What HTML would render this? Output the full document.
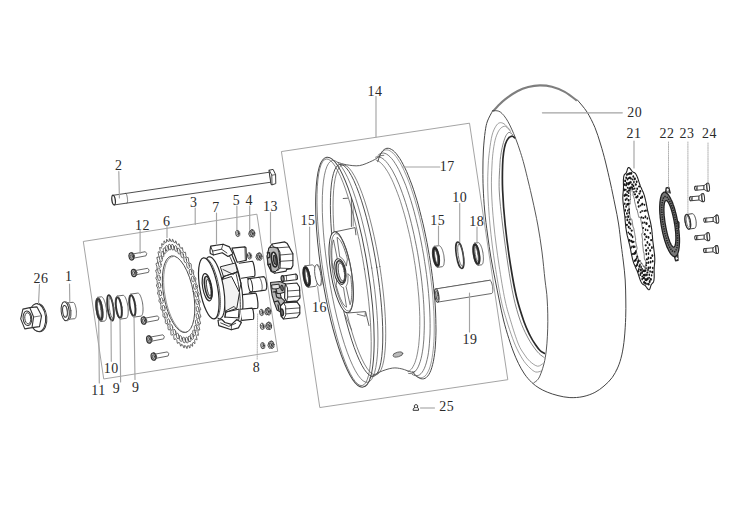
<!DOCTYPE html>
<html><head><meta charset="utf-8"><title>Rear wheel assembly</title>
<style>html,body{margin:0;padding:0;background:#fff;}svg{display:block}text{font-family:"Liberation Serif",serif;}</style>
</head><body>
<svg width="749" height="521" viewBox="0 0 749 521" stroke-linejoin="round" stroke-linecap="round">
<rect width="749" height="521" fill="#fff"/>
<path d="M83.7 241.4 L256.9 214.2 L277.7 351.3 L104.1 378.9Z" fill="none" stroke="#9a9a9a" stroke-width="0.9" />
<path d="M281.8 151.5 L469.5 123.2 L507.8 379.7 L320.2 407.5Z" fill="none" stroke="#9a9a9a" stroke-width="0.9" />
<path d="M113.7 195.2 L269.6 172.2 L271 182.2 L114.4 204.9" fill="#fff" stroke="#3a3a3a" stroke-width="0.9" />
<ellipse cx="0" cy="0" rx="1.7" ry="4.9" transform="translate(113.6 200.1) rotate(-8)" fill="#fff" stroke="#333" stroke-width="1.3" />
<path d="M125.5 193.3 L125.6 193.3 L125.7 193.4 L125.8 193.4 L125.9 193.5 L126 193.7 L126.1 193.8 L126.2 194 L126.3 194.2 L126.5 194.4 L126.6 194.7 L126.7 194.9 L126.8 195.2 L126.9 195.5 L126.9 195.8 L127 196.2 L127.1 196.5 L127.2 196.9 L127.3 197.3 L127.3 197.7 L127.4 198 L127.4 198.4 L127.5 198.8 L127.5 199.2 L127.5 199.5 L127.6 199.9 L127.6 200.3 L127.6 200.6 L127.6 200.9 L127.5 201.2 L127.5 201.5 L127.5 201.8 L127.5 202 L127.4 202.3 L127.3 202.4 L127.3 202.6 L127.2 202.8 L127.1 202.9 L127.1 203 L127 203 L126.9 203.1" fill="none" stroke="#3a3a3a" stroke-width="0.7" />
<path d="M269.3 170.2 L273.1 169.4 L275.6 174.6 L275.8 183.6 L272 184.8 L271.4 184.6Z" fill="#fff" stroke="#3a3a3a" stroke-width="1.0" />
<path d="M269.3 170.2 L271.8 175.2 L272 184.8" fill="none" stroke="#3a3a3a" stroke-width="0.9" />
<path d="M271.8 175.2 L275.6 174.6" fill="none" stroke="#3a3a3a" stroke-width="0.8" />
<ellipse cx="0" cy="0" rx="8.2" ry="14.2" transform="translate(38.6 317.6) rotate(-6)" fill="#fff" stroke="#333" stroke-width="1.0" />
<ellipse cx="0" cy="0" rx="8" ry="14" transform="translate(37.6 317.6) rotate(-6)" fill="#fff" stroke="#333" stroke-width="1.0" />
<path d="M29.8 307.6 L37 306.9 L41.6 315.7 L39.5 326.6 L32 327.6" fill="#fff" stroke="#333" stroke-width="1.1" />
<path d="M20.7 318.9 L22.9 309.1 L29.8 307.6 L33.6 317 L32 327.6 L24.8 328.9Z" fill="#fff" stroke="#333" stroke-width="1.1" />
<line x1="33.6" y1="317" x2="41.6" y2="315.7" stroke="#585858" stroke-width="0.8"/>
<ellipse cx="0" cy="0" rx="4.3" ry="7.3" transform="translate(27.4 318.3) rotate(-6)" fill="none" stroke="#333" stroke-width="1.0" />
<ellipse cx="0" cy="0" rx="3" ry="5.6" transform="translate(27.8 318.3) rotate(-6)" fill="none" stroke="#333" stroke-width="0.9" />
<path d="M67.6 302.8 L73 302.3 L73.3 302.4 L73.6 302.5 L73.8 302.7 L74.1 302.9 L74.4 303.3 L74.6 303.8 L74.9 304.3 L75.1 304.9 L75.3 305.5 L75.5 306.2 L75.7 307 L75.9 307.7 L76.1 308.6 L76.2 309.4 L76.3 310.2 L76.4 311.1 L76.4 312 L76.4 312.8 L76.4 313.6 L76.4 314.4 L76.3 315.1 L76.2 315.8 L76.1 316.4 L76 317 L75.8 317.4 L75.7 317.8 L75.5 318.2 L75.2 318.4 L75 318.6 L74.8 318.7 L69.4 319.2" fill="#fff" stroke="#585858" stroke-width="0.9" />
<ellipse cx="0" cy="0" rx="2.4" ry="8.2" transform="translate(68.5 311) rotate(-6)" fill="#fff" stroke="#585858" stroke-width="0.9" />
<ellipse cx="0" cy="0" rx="4" ry="9.6" transform="translate(65.2 311.3) rotate(-6)" fill="#fff" stroke="#333" stroke-width="1.0" />
<path d="M65.4 301.7 L65.7 301.6 L66 301.7 L66.4 301.8 L66.7 302 L67 302.2 L67.3 302.5 L67.6 302.8 L67.9 303.2 L68.2 303.7 L68.5 304.2 L68.8 304.7 L69 305.2 L69.3 305.9 L69.5 306.5 L69.7 307.2 L69.9 307.9 L70 308.6 L70.2 309.3 L70.3 310 L70.4 310.8 L70.4 311.5 L70.5 312.3 L70.5 313 L70.5 313.8 L70.5 314.5 L70.4 315.2 L70.3 315.8 L70.2 316.5 L70.1 317.1 L69.9 317.7 L69.7 318.2 L69.6 318.7 L69.3 319.1 L69.1 319.5 L68.8 319.9 L68.6 320.2 L68.3 320.4 L68 320.6 L67.7 320.7 L67.4 320.7" fill="none" stroke="#585858" stroke-width="0.7" />
<ellipse cx="0" cy="0" rx="2.3" ry="5.9" transform="translate(65 311.4) rotate(-6)" fill="none" stroke="#333" stroke-width="1.0" />
<path d="M65.7 306.7 L65.9 306.8 L66 307 L66.2 307.1 L66.3 307.4 L66.4 307.6 L66.6 307.9 L66.7 308.2 L66.8 308.5 L66.9 308.8 L67 309.1 L67.1 309.5 L67.2 309.8 L67.3 310.2 L67.3 310.6 L67.4 311 L67.4 311.4 L67.4 311.8 L67.5 312.2 L67.5 312.5 L67.5 312.9 L67.4 313.3 L67.4 313.6 L67.4 314 L67.3 314.3 L67.3 314.6 L67.2 314.9 L67.1 315.2 L67 315.4 L66.9 315.6 L66.8 315.8 L66.7 316 L66.6 316.1 L66.5 316.2 L66.3 316.3 L66.2 316.4 L66.1 316.4 L65.9 316.4 L65.8 316.3 L65.6 316.2 L65.5 316.1" fill="none" stroke="#585858" stroke-width="0.7" />
<path d="M97.7 297.3 L101.3 296.8 L101.7 296.8 L102 297 L102.4 297.3 L102.8 297.7 L103.2 298.2 L103.5 298.9 L103.9 299.6 L104.3 300.5 L104.6 301.4 L105 302.5 L105.3 303.6 L105.6 304.7 L105.8 305.9 L106.1 307.2 L106.3 308.4 L106.4 309.7 L106.5 311 L106.6 312.2 L106.7 313.4 L106.7 314.5 L106.6 315.6 L106.6 316.6 L106.4 317.6 L106.3 318.4 L106.1 319.1 L105.9 319.7 L105.6 320.2 L105.3 320.6 L105 320.9 L104.7 321 L101.1 321.5" fill="#fff" stroke="#585858" stroke-width="0.9" />
<ellipse cx="0" cy="0" rx="3.3" ry="12.2" transform="translate(99.4 309.4) rotate(-8)" fill="#fff" stroke="#585858" stroke-width="0.9" />
<ellipse cx="0" cy="0" rx="2.6" ry="10.4" transform="translate(99.4 309.4) rotate(-8)" fill="none" stroke="#333" stroke-width="2.2" />
<ellipse cx="0" cy="0" rx="1.5" ry="8.3" transform="translate(99.4 309.4) rotate(-8)" fill="none" stroke="#585858" stroke-width="0.8" />
<ellipse cx="0" cy="0" rx="2.9" ry="12.8" transform="translate(110.5 307.9) rotate(-8)" fill="none" stroke="#333" stroke-width="1.8" />
<ellipse cx="0" cy="0" rx="2.2" ry="10.8" transform="translate(111.5 307.8) rotate(-8)" fill="none" stroke="#585858" stroke-width="0.8" />
<path d="M117.2 296.1 L123 295.3 L123.3 295.3 L123.7 295.5 L124.1 295.7 L124.5 296.1 L124.8 296.6 L125.2 297.2 L125.6 298 L125.9 298.8 L126.3 299.7 L126.6 300.7 L126.9 301.7 L127.2 302.8 L127.5 304 L127.7 305.1 L127.9 306.3 L128 307.5 L128.1 308.7 L128.2 309.9 L128.2 311.1 L128.2 312.1 L128.2 313.2 L128.1 314.1 L128 315 L127.8 315.8 L127.6 316.5 L127.4 317.1 L127.1 317.6 L126.9 317.9 L126.5 318.2 L126.2 318.3 L120.4 319.1" fill="#fff" stroke="#585858" stroke-width="0.9" />
<ellipse cx="0" cy="0" rx="3.3" ry="11.6" transform="translate(118.8 307.6) rotate(-8)" fill="#fff" stroke="#585858" stroke-width="0.9" />
<ellipse cx="0" cy="0" rx="2.6" ry="10.2" transform="translate(118.8 307.6) rotate(-8)" fill="none" stroke="#333" stroke-width="1.7" />
<path d="M130.8 294.1 L137.8 293.1 L138.1 293.1 L138.5 293.3 L138.9 293.5 L139.3 293.9 L139.6 294.4 L140 295 L140.4 295.8 L140.7 296.6 L141.1 297.5 L141.4 298.5 L141.7 299.5 L142 300.6 L142.3 301.8 L142.5 302.9 L142.7 304.1 L142.8 305.3 L142.9 306.5 L143 307.7 L143 308.9 L143 309.9 L143 311 L142.9 311.9 L142.8 312.8 L142.6 313.6 L142.4 314.3 L142.2 314.9 L141.9 315.4 L141.7 315.7 L141.3 316 L141 316.1 L134 317.1" fill="#fff" stroke="#585858" stroke-width="0.9" />
<ellipse cx="0" cy="0" rx="3.3" ry="11.6" transform="translate(132.4 305.6) rotate(-8)" fill="#fff" stroke="#585858" stroke-width="0.9" />
<ellipse cx="0" cy="0" rx="2.6" ry="10.2" transform="translate(132.4 305.6) rotate(-8)" fill="none" stroke="#333" stroke-width="1.7" />
<path d="M130.9 254.3 L145.3 251.7 Q147.8 253.3 146 255.8 L131.7 258.5" fill="#fff" stroke="#585858" stroke-width="0.9" />
<ellipse cx="0" cy="0" rx="2.3" ry="3.7" transform="translate(132.2 256.2) rotate(-9)" fill="#fff" stroke="#585858" stroke-width="0.9" />
<ellipse cx="0" cy="0" rx="2.3" ry="3.7" transform="translate(131.3 256.4) rotate(-9)" fill="#b4b4b4" stroke="#333" stroke-width="1.1" />
<ellipse cx="0" cy="0" rx="1" ry="1.8" transform="translate(131.3 256.4) rotate(-9)" fill="#ddd" stroke="#333" stroke-width="0.7" />
<path d="M133.3 270.9 L147.7 268.3 Q150.2 269.9 148.4 272.4 L134.1 275.1" fill="#fff" stroke="#585858" stroke-width="0.9" />
<ellipse cx="0" cy="0" rx="2.3" ry="3.7" transform="translate(134.6 272.9) rotate(-9)" fill="#fff" stroke="#585858" stroke-width="0.9" />
<ellipse cx="0" cy="0" rx="2.3" ry="3.7" transform="translate(133.7 273) rotate(-9)" fill="#b4b4b4" stroke="#333" stroke-width="1.1" />
<ellipse cx="0" cy="0" rx="1" ry="1.8" transform="translate(133.7 273) rotate(-9)" fill="#ddd" stroke="#333" stroke-width="0.7" />
<path d="M143.1 318.5 L157.5 315.9 Q160 317.5 158.2 320 L143.9 322.7" fill="#fff" stroke="#585858" stroke-width="0.9" />
<ellipse cx="0" cy="0" rx="2.3" ry="3.7" transform="translate(144.4 320.5) rotate(-9)" fill="#fff" stroke="#585858" stroke-width="0.9" />
<ellipse cx="0" cy="0" rx="2.3" ry="3.7" transform="translate(143.5 320.6) rotate(-9)" fill="#b4b4b4" stroke="#333" stroke-width="1.1" />
<ellipse cx="0" cy="0" rx="1" ry="1.8" transform="translate(143.5 320.6) rotate(-9)" fill="#ddd" stroke="#333" stroke-width="0.7" />
<path d="M148.5 337.4 L162.9 334.8 Q165.4 336.4 163.6 338.9 L149.3 341.6" fill="#fff" stroke="#585858" stroke-width="0.9" />
<ellipse cx="0" cy="0" rx="2.3" ry="3.7" transform="translate(149.8 339.4) rotate(-9)" fill="#fff" stroke="#585858" stroke-width="0.9" />
<ellipse cx="0" cy="0" rx="2.3" ry="3.7" transform="translate(148.9 339.5) rotate(-9)" fill="#b4b4b4" stroke="#333" stroke-width="1.1" />
<ellipse cx="0" cy="0" rx="1" ry="1.8" transform="translate(148.9 339.5) rotate(-9)" fill="#ddd" stroke="#333" stroke-width="0.7" />
<path d="M153 354.5 L167.4 351.9 Q169.9 353.5 168.1 356 L153.8 358.7" fill="#fff" stroke="#585858" stroke-width="0.9" />
<ellipse cx="0" cy="0" rx="2.3" ry="3.7" transform="translate(154.3 356.5) rotate(-9)" fill="#fff" stroke="#585858" stroke-width="0.9" />
<ellipse cx="0" cy="0" rx="2.3" ry="3.7" transform="translate(153.4 356.6) rotate(-9)" fill="#b4b4b4" stroke="#333" stroke-width="1.1" />
<ellipse cx="0" cy="0" rx="1" ry="1.8" transform="translate(153.4 356.6) rotate(-9)" fill="#ddd" stroke="#333" stroke-width="0.7" />
<path d="M197.5 290 L197.8 291.7 L198.9 293.2 L199.1 294.4 L198.4 295.9 L198.6 297.5 L198.8 299.2 L200 301 L200.1 302.2 L199.3 303.3 L199.4 304.9 L199.5 306.5 L200.6 308.6 L200.7 309.8 L199.7 310.5 L199.7 312.1 L199.8 313.6 L200.8 316 L200.8 317.1 L199.7 317.4 L199.6 318.8 L199.6 320.3 L200.5 322.9 L200.4 323.9 L199.3 323.8 L199.1 325.1 L198.9 326.4 L199.7 329.2 L199.6 330.1 L198.4 329.6 L198.2 330.7 L197.9 331.9 L198.5 334.7 L198.3 335.5 L197.1 334.6 L196.8 335.6 L196.4 336.6 L197 339.5 L196.7 340.1 L195.5 338.8 L195.1 339.6 L194.6 340.4 L195 343.3 L194.6 343.8 L193.5 342.1 L193 342.7 L192.5 343.2 L192.7 346.1 L192.3 346.4 L191.2 344.4 L190.6 344.8 L190 345.1 L190.1 347.8 L189.6 347.9 L188.6 345.7 L188 345.8 L187.4 345.9 L187.2 348.4 L186.7 348.4 L185.8 345.9 L185.2 345.8 L184.5 345.6 L184.2 347.9 L183.7 347.7 L182.8 345 L182.2 344.7 L181.5 344.3 L181 346.3 L180.5 345.9 L179.8 343.1 L179.1 342.6 L178.5 342 L177.8 343.6 L177.3 343.1 L176.8 340.2 L176.1 339.4 L175.4 338.6 L174.6 339.9 L174.1 339.2 L173.7 336.4 L173.1 335.4 L172.4 334.4 L171.5 335.3 L171 334.5 L170.8 331.6 L170.2 330.5 L169.5 329.3 L168.5 329.8 L168.1 328.9 L168 326.1 L167.4 324.8 L166.8 323.5 L165.8 323.6 L165.3 322.5 L165.4 320 L164.9 318.5 L164.4 317.1 L163.2 316.8 L162.9 315.6 L163.1 313.2 L162.6 311.7 L162.2 310.2 L161 309.5 L160.7 308.3 L161.1 306.1 L160.7 304.5 L160.3 302.9 L159.1 301.8 L158.9 300.6 L159.5 298.8 L159.1 297.2 L158.8 295.5 L157.7 294 L157.5 292.8 L158.2 291.3 L158 289.7 L157.8 288 L156.6 286.2 L156.5 285 L157.3 283.9 L157.2 282.3 L157.1 280.7 L156 278.6 L155.9 277.4 L156.9 276.7 L156.9 275.1 L156.8 273.6 L155.8 271.2 L155.8 270.1 L156.9 269.8 L157 268.4 L157 266.9 L156.1 264.3 L156.2 263.3 L157.3 263.4 L157.5 262.1 L157.7 260.8 L156.9 258 L157 257.1 L158.2 257.6 L158.4 256.5 L158.7 255.3 L158.1 252.5 L158.3 251.7 L159.5 252.6 L159.8 251.6 L160.2 250.6 L159.6 247.7 L159.9 247.1 L161.1 248.4 L161.5 247.6 L162 246.8 L161.6 243.9 L162 243.4 L163.1 245.1 L163.6 244.5 L164.1 244 L163.9 241.1 L164.3 240.8 L165.4 242.8 L166 242.4 L166.6 242.1 L166.5 239.4 L167 239.3 L168 241.5 L168.6 241.4 L169.2 241.3 L169.4 238.8 L169.9 238.8 L170.8 241.3 L171.4 241.4 L172.1 241.6 L172.4 239.3 L172.9 239.5 L173.8 242.2 L174.4 242.5 L175.1 242.9 L175.6 240.9 L176.1 241.3 L176.8 244.1 L177.5 244.6 L178.1 245.2 L178.8 243.6 L179.3 244.1 L179.8 247 L180.5 247.8 L181.2 248.6 L182 247.3 L182.5 248 L182.9 250.8 L183.5 251.8 L184.2 252.8 L185.1 251.9 L185.6 252.7 L185.8 255.6 L186.4 256.7 L187.1 257.9 L188.1 257.4 L188.5 258.3 L188.6 261.1 L189.2 262.4 L189.8 263.7 L190.8 263.6 L191.3 264.7 L191.2 267.2 L191.7 268.7 L192.2 270.1 L193.4 270.4 L193.7 271.6 L193.5 274 L194 275.5 L194.4 277 L195.6 277.7 L195.9 278.9 L195.5 281.1 L195.9 282.7 L196.3 284.3 L197.5 285.4 L197.7 286.6 L197.1 288.4Z" fill="#fff" stroke="#444" stroke-width="0.8" />
<ellipse cx="0" cy="0" rx="1.3" ry="3.0" transform="translate(196.2 294.3) rotate(-10.5)" fill="none" stroke="#444" stroke-width="0.75"/>
<ellipse cx="0" cy="0" rx="1.3" ry="3.0" transform="translate(197.1 301.9) rotate(-10.5)" fill="none" stroke="#444" stroke-width="0.75"/>
<ellipse cx="0" cy="0" rx="1.3" ry="3.0" transform="translate(197.6 309.3) rotate(-10.5)" fill="none" stroke="#444" stroke-width="0.75"/>
<ellipse cx="0" cy="0" rx="1.3" ry="3.0" transform="translate(197.5 316.3) rotate(-10.5)" fill="none" stroke="#444" stroke-width="0.75"/>
<ellipse cx="0" cy="0" rx="1.3" ry="3.0" transform="translate(196.8 322.7) rotate(-10.5)" fill="none" stroke="#444" stroke-width="0.75"/>
<ellipse cx="0" cy="0" rx="1.3" ry="3.0" transform="translate(195.7 328.3) rotate(-10.5)" fill="none" stroke="#444" stroke-width="0.75"/>
<ellipse cx="0" cy="0" rx="1.3" ry="3.0" transform="translate(194.1 332.9) rotate(-10.5)" fill="none" stroke="#444" stroke-width="0.75"/>
<ellipse cx="0" cy="0" rx="1.3" ry="3.0" transform="translate(192 336.5) rotate(-10.5)" fill="none" stroke="#444" stroke-width="0.75"/>
<ellipse cx="0" cy="0" rx="1.3" ry="3.0" transform="translate(189.6 338.9) rotate(-10.5)" fill="none" stroke="#444" stroke-width="0.75"/>
<ellipse cx="0" cy="0" rx="1.3" ry="3.0" transform="translate(186.9 340.1) rotate(-10.5)" fill="none" stroke="#444" stroke-width="0.75"/>
<ellipse cx="0" cy="0" rx="1.3" ry="3.0" transform="translate(184 340) rotate(-10.5)" fill="none" stroke="#444" stroke-width="0.75"/>
<ellipse cx="0" cy="0" rx="1.3" ry="3.0" transform="translate(180.8 338.6) rotate(-10.5)" fill="none" stroke="#444" stroke-width="0.75"/>
<ellipse cx="0" cy="0" rx="1.3" ry="3.0" transform="translate(177.7 336) rotate(-10.5)" fill="none" stroke="#444" stroke-width="0.75"/>
<ellipse cx="0" cy="0" rx="1.3" ry="3.0" transform="translate(174.5 332.2) rotate(-10.5)" fill="none" stroke="#444" stroke-width="0.75"/>
<ellipse cx="0" cy="0" rx="1.3" ry="3.0" transform="translate(171.4 327.4) rotate(-10.5)" fill="none" stroke="#444" stroke-width="0.75"/>
<ellipse cx="0" cy="0" rx="1.3" ry="3.0" transform="translate(168.6 321.7) rotate(-10.5)" fill="none" stroke="#444" stroke-width="0.75"/>
<ellipse cx="0" cy="0" rx="1.3" ry="3.0" transform="translate(166 315.2) rotate(-10.5)" fill="none" stroke="#444" stroke-width="0.75"/>
<ellipse cx="0" cy="0" rx="1.3" ry="3.0" transform="translate(163.7 308.1) rotate(-10.5)" fill="none" stroke="#444" stroke-width="0.75"/>
<ellipse cx="0" cy="0" rx="1.3" ry="3.0" transform="translate(161.8 300.6) rotate(-10.5)" fill="none" stroke="#444" stroke-width="0.75"/>
<ellipse cx="0" cy="0" rx="1.3" ry="3.0" transform="translate(160.4 292.9) rotate(-10.5)" fill="none" stroke="#444" stroke-width="0.75"/>
<ellipse cx="0" cy="0" rx="1.3" ry="3.0" transform="translate(159.5 285.3) rotate(-10.5)" fill="none" stroke="#444" stroke-width="0.75"/>
<ellipse cx="0" cy="0" rx="1.3" ry="3.0" transform="translate(159 277.9) rotate(-10.5)" fill="none" stroke="#444" stroke-width="0.75"/>
<ellipse cx="0" cy="0" rx="1.3" ry="3.0" transform="translate(159.1 270.9) rotate(-10.5)" fill="none" stroke="#444" stroke-width="0.75"/>
<ellipse cx="0" cy="0" rx="1.3" ry="3.0" transform="translate(159.8 264.5) rotate(-10.5)" fill="none" stroke="#444" stroke-width="0.75"/>
<ellipse cx="0" cy="0" rx="1.3" ry="3.0" transform="translate(160.9 258.9) rotate(-10.5)" fill="none" stroke="#444" stroke-width="0.75"/>
<ellipse cx="0" cy="0" rx="1.3" ry="3.0" transform="translate(162.5 254.3) rotate(-10.5)" fill="none" stroke="#444" stroke-width="0.75"/>
<ellipse cx="0" cy="0" rx="1.3" ry="3.0" transform="translate(164.6 250.7) rotate(-10.5)" fill="none" stroke="#444" stroke-width="0.75"/>
<ellipse cx="0" cy="0" rx="1.3" ry="3.0" transform="translate(167 248.3) rotate(-10.5)" fill="none" stroke="#444" stroke-width="0.75"/>
<ellipse cx="0" cy="0" rx="1.3" ry="3.0" transform="translate(169.7 247.1) rotate(-10.5)" fill="none" stroke="#444" stroke-width="0.75"/>
<ellipse cx="0" cy="0" rx="1.3" ry="3.0" transform="translate(172.6 247.2) rotate(-10.5)" fill="none" stroke="#444" stroke-width="0.75"/>
<ellipse cx="0" cy="0" rx="1.3" ry="3.0" transform="translate(175.8 248.6) rotate(-10.5)" fill="none" stroke="#444" stroke-width="0.75"/>
<ellipse cx="0" cy="0" rx="1.3" ry="3.0" transform="translate(178.9 251.2) rotate(-10.5)" fill="none" stroke="#444" stroke-width="0.75"/>
<ellipse cx="0" cy="0" rx="1.3" ry="3.0" transform="translate(182.1 255) rotate(-10.5)" fill="none" stroke="#444" stroke-width="0.75"/>
<ellipse cx="0" cy="0" rx="1.3" ry="3.0" transform="translate(185.2 259.8) rotate(-10.5)" fill="none" stroke="#444" stroke-width="0.75"/>
<ellipse cx="0" cy="0" rx="1.3" ry="3.0" transform="translate(188 265.5) rotate(-10.5)" fill="none" stroke="#444" stroke-width="0.75"/>
<ellipse cx="0" cy="0" rx="1.3" ry="3.0" transform="translate(190.6 272) rotate(-10.5)" fill="none" stroke="#444" stroke-width="0.75"/>
<ellipse cx="0" cy="0" rx="1.3" ry="3.0" transform="translate(192.9 279.1) rotate(-10.5)" fill="none" stroke="#444" stroke-width="0.75"/>
<ellipse cx="0" cy="0" rx="1.3" ry="3.0" transform="translate(194.8 286.6) rotate(-10.5)" fill="none" stroke="#444" stroke-width="0.75"/>
<ellipse cx="0" cy="0" rx="14.9" ry="38.9" transform="translate(178.6 294.2) rotate(-10.5)" fill="none" stroke="#444" stroke-width="0.9" />
<path d="M186.6 332.1 L185.4 332.2 L184.3 332.1 L183.1 331.7 L181.8 331.1 L180.6 330.3 L179.3 329.2 L178.1 328 L176.8 326.5 L175.6 324.8 L174.4 323 L173.2 320.9 L172.1 318.7 L171 316.4 L170 313.9 L169 311.3 L168.1 308.6 L167.3 305.8 L166.5 302.9 L165.9 300 L165.3 297.1 L164.8 294.1 L164.3 291.1 L164 288.2 L163.8 285.3 L163.7 282.4 L163.6 279.6 L163.7 277 L163.9 274.4 L164.2 271.9 L164.5 269.6 L165 267.4 L165.5 265.4 L166.1 263.6 L166.9 262 L167.7 260.6 L168.5 259.3 L169.5 258.3 L170.5 257.6 L171.5 257 L172.6 256.7" fill="none" stroke="#666" stroke-width="0.7" />
<path d="M219.1 246.1 L220.1 245.4 L221.2 245.1 L222.3 245 L223.5 245.3 L224.7 245.9 L226 246.9 L227.2 248.1 L228.5 249.6 L229.8 251.4 L231.1 253.5 L232.3 255.8 L233.5 258.4 L234.7 261.2 L235.8 264.2 L236.9 267.3 L237.9 270.6 L238.8 274 L239.7 277.5 L240.4 281.1 L241.1 284.7 L241.7 288.4 L242.2 292 L242.5 295.6 L242.8 299.1 L242.9 302.5 L242.9 305.7 L242.8 308.9 L242.6 311.8 L242.3 314.6 L241.9 317.1 L241.4 319.4 L240.8 321.4 L240 323.2 L239.2 324.6 L238.3 325.8 L237.4 326.7 L236.3 327.2 L235.2 327.5 L234.1 327.4 L232.9 327" fill="#fff" stroke="#2a2a2a" stroke-width="1.15" />
<path d="M217.7 246.9 L218.7 246.5 L219.7 246.3 L220.8 246.4 L221.9 246.9 L223.1 247.6 L224.3 248.5 L225.4 249.8 L226.7 251.3 L227.8 253.1 L229 255.1 L230.2 257.4 L231.3 259.8 L232.4 262.5 L233.5 265.3 L234.5 268.3 L235.4 271.4 L236.3 274.7 L237.1 278 L237.8 281.3 L238.5 284.7 L239 288.2 L239.5 291.6 L239.8 295 L240.1 298.3 L240.2 301.5 L240.3 304.6 L240.3 307.6 L240.1 310.4 L239.9 313.1 L239.5 315.6 L239.1 317.8 L238.6 319.9 L237.9 321.7 L237.2 323.2 L236.4 324.5 L235.6 325.5 L234.6 326.2 L233.6 326.6 L232.6 326.8 L231.5 326.6" fill="none" stroke="#2a2a2a" stroke-width="0.9" />
<path d="M210 250.4 L210.7 246.1 L223 244.2 L229.5 246.9 L233 253.8 L228 256.5 L222.2 252.7 L213.4 255 L210.3 253.4Z" fill="#fff" stroke="#2a2a2a" stroke-width="1.15" />
<path d="M212.6 251.1 L221.5 249.2 L226.9 253" fill="none" stroke="#2a2a2a" stroke-width="0.9" />
<path d="M210.7 246.5 L212.6 251.1 L213.4 255" fill="none" stroke="#2a2a2a" stroke-width="0.9" />
<path d="M223 244.2 L221.5 249.2" fill="none" stroke="#2a2a2a" stroke-width="0.8" />
<path d="M218 320.2 L218.8 325.6 L231.3 329.8 L238.4 327.9 L241.4 322.5 L236.8 319.5 L231.5 324.4 L224.9 322.5 L221.9 319.5Z" fill="#fff" stroke="#2a2a2a" stroke-width="1.15" />
<path d="M220.7 322.9 L228.8 326.4 L235.7 323.3" fill="none" stroke="#2a2a2a" stroke-width="0.9" />
<path d="M231.3 329.8 L231.5 324.4" fill="none" stroke="#2a2a2a" stroke-width="0.8" />
<path d="M232 248.1 L244.9 246.9 L246 247.7 L246.4 260.3 L237.2 262.3Z" fill="#fff" stroke="#2a2a2a" stroke-width="1.15" />
<path d="M244.9 246.9 L245.3 260.3" fill="none" stroke="#2a2a2a" stroke-width="0.7" />
<path d="M239.2 263.2 L252.2 261.3 L252.5 261.4 L252.8 261.8 L253.1 262.4 L253.4 263.3 L253.7 264.5 L254 265.7 L254.3 267.1 L254.5 268.6 L254.7 270.1 L254.9 271.5 L254.9 272.8 L255 274 L254.9 274.9 L254.8 275.7 L254.7 276.1 L254.4 276.3 L241.4 278.2" fill="#fff" stroke="#2a2a2a" stroke-width="1.15" />
<path d="M243.2 294.6 L255.5 293.1 L255.7 293.2 L256 293.6 L256.3 294.3 L256.6 295.2 L256.9 296.3 L257.2 297.6 L257.4 299 L257.6 300.5 L257.8 302 L257.9 303.4 L257.9 304.7 L257.9 305.9 L257.9 306.8 L257.7 307.6 L257.6 308 L257.4 308.2 L245.1 309.7" fill="#fff" stroke="#2a2a2a" stroke-width="1.15" />
<path d="M240.9 309.3 L252 308.1 L252.2 308.2 L252.4 308.5 L252.6 309 L252.9 309.7 L253.1 310.5 L253.3 311.5 L253.4 312.5 L253.6 313.6 L253.7 314.7 L253.7 315.7 L253.7 316.7 L253.7 317.6 L253.6 318.3 L253.5 318.8 L253.3 319.1 L253.1 319.3 L242 320.4" fill="#fff" stroke="#2a2a2a" stroke-width="1.15" />
<path d="M247.4 278.9 L263.5 276.6 L263.9 276.7 L264.3 277 L264.8 277.6 L265.2 278.4 L265.6 279.4 L265.9 280.5 L266.2 281.8 L266.5 283.1 L266.6 284.4 L266.7 285.7 L266.7 286.9 L266.6 287.9 L266.4 288.8 L266.1 289.5 L265.8 289.9 L265.4 290.1 L249.3 292.4" fill="#fff" stroke="#2a2a2a" stroke-width="1.15" />
<ellipse cx="0" cy="0" rx="2" ry="6.8" transform="translate(250.3 285.3) rotate(-10)" fill="none" stroke="#2a2a2a" stroke-width="1.0" />
<path d="M258.7 277.4 L258.8 277.4 L259 277.5 L259.2 277.5 L259.4 277.7 L259.5 277.8 L259.7 278 L259.9 278.2 L260.1 278.5 L260.2 278.8 L260.4 279.2 L260.6 279.5 L260.8 279.9 L260.9 280.3 L261.1 280.8 L261.2 281.3 L261.4 281.7 L261.5 282.2 L261.6 282.7 L261.7 283.3 L261.8 283.8 L261.9 284.3 L262 284.8 L262.1 285.4 L262.1 285.9 L262.1 286.4 L262.2 286.9 L262.2 287.3 L262.2 287.8 L262.1 288.2 L262.1 288.6 L262 289 L262 289.3 L261.9 289.7 L261.8 289.9 L261.7 290.2 L261.6 290.4 L261.5 290.6 L261.3 290.7 L261.2 290.8 L261 290.8" fill="none" stroke="#2a2a2a" stroke-width="0.8" />
<path d="M220.7 266.7 L235.3 263 L237.6 271.9 L223.8 276.5Z" fill="#f2f2f2" stroke="#2a2a2a" stroke-width="1.0" />
<path d="M223.8 276.5 L237.6 271.9 L241.1 283.4 L238.8 292.6" fill="none" stroke="#2a2a2a" stroke-width="1.0" />
<path d="M221.9 279.5 L231.5 276.5 L239.5 292.6 L236.8 308.3 L225.7 312.2Z" fill="#f4f4f4" stroke="#2a2a2a" stroke-width="1.0" />
<path d="M225.7 312.2 L239.1 309.1 L238.4 317.9 L224.9 317.1" fill="none" stroke="#2a2a2a" stroke-width="1.0" />
<path d="M223 269.5 L233.4 274.5 L236.4 271.5" fill="none" stroke="#2a2a2a" stroke-width="0.9" />
<path d="M225.7 311 L234.1 306.4 L236.4 309.1" fill="none" stroke="#2a2a2a" stroke-width="0.9" />
<path d="M223.8 276.5 L221.9 279.5" fill="none" stroke="#2a2a2a" stroke-width="1.8" />
<path d="M224.9 317.1 L225.7 312.2" fill="none" stroke="#2a2a2a" stroke-width="1.4" />
<path d="M207.1 258 L207.8 257.3 L208.5 256.9 L209.3 256.8 L210.1 256.9 L211 257.2 L211.9 257.8 L212.8 258.6 L213.7 259.7 L214.6 260.9 L215.6 262.4 L216.5 264.1 L217.4 266 L218.3 268 L219.1 270.2 L219.9 272.6 L220.7 275 L221.4 277.6 L222 280.2 L222.6 282.9 L223.2 285.7 L223.6 288.4 L224 291.2 L224.3 293.9 L224.6 296.6 L224.7 299.2 L224.8 301.7 L224.8 304.1 L224.7 306.4 L224.5 308.5 L224.3 310.4 L224 312.2 L223.5 313.8 L223.1 315.2 L222.5 316.4 L221.9 317.3 L221.2 318 L220.5 318.5 L219.7 318.7 L218.9 318.7 L218.1 318.4" fill="#fff" stroke="#2a2a2a" stroke-width="1.15" />
<ellipse cx="0" cy="0" rx="8.9" ry="31" transform="translate(208.8 288.4) rotate(-10)" fill="#fff" stroke="#2a2a2a" stroke-width="1.2" />
<path d="M206.4 258.4 L207.1 258.8 L207.9 259.3 L208.7 260 L209.4 260.9 L210.2 262 L211 263.1 L211.8 264.5 L212.6 266 L213.3 267.6 L214 269.3 L214.7 271.1 L215.4 273.1 L216.1 275.1 L216.7 277.2 L217.3 279.4 L217.8 281.6 L218.3 283.9 L218.8 286.2 L219.2 288.5 L219.5 290.8 L219.8 293 L220 295.3 L220.2 297.5 L220.3 299.7 L220.4 301.8 L220.3 303.8 L220.3 305.7 L220.2 307.6 L220 309.3 L219.7 310.9 L219.4 312.4 L219.1 313.7 L218.7 314.9 L218.2 315.9 L217.7 316.7 L217.2 317.4 L216.6 318 L216 318.3 L215.3 318.5 L214.6 318.5" fill="none" stroke="#2a2a2a" stroke-width="0.8" />
<ellipse cx="0" cy="0" rx="4.5" ry="13.8" transform="translate(207.2 287.2) rotate(-10)" fill="none" stroke="#2a2a2a" stroke-width="1.2" />
<ellipse cx="0" cy="0" rx="3.2" ry="11.2" transform="translate(208.1 287.4) rotate(-10)" fill="#d8d8d8" stroke="#2a2a2a" stroke-width="1.5" />
<ellipse cx="0" cy="0" rx="1.8" ry="8.4" transform="translate(208.7 287.7) rotate(-10)" fill="#fff" stroke="#2a2a2a" stroke-width="0.8" />
<ellipse cx="0" cy="0" rx="1.7" ry="3.1" transform="translate(237.4 233.5) rotate(-9)" fill="#fff" stroke="#3a3a3a" stroke-width="0.9" />
<ellipse cx="0" cy="0" rx="0.8" ry="1.7" transform="translate(237.8 233.5) rotate(-9)" fill="none" stroke="#3a3a3a" stroke-width="0.7" />
<path d="M237.7 230.3 L237.8 230.3 L238 230.3 L238.1 230.4 L238.3 230.4 L238.4 230.5 L238.5 230.6 L238.7 230.7 L238.8 230.8 L238.9 230.9 L239 231 L239.2 231.2 L239.3 231.4 L239.4 231.6 L239.5 231.8 L239.6 232 L239.6 232.2 L239.7 232.4 L239.8 232.7 L239.8 232.9 L239.9 233.1 L239.9 233.4 L239.9 233.6 L239.9 233.9 L239.9 234.1 L239.9 234.3 L239.9 234.6 L239.9 234.8 L239.8 235 L239.8 235.2 L239.7 235.4 L239.7 235.6 L239.6 235.7 L239.5 235.9 L239.4 236 L239.3 236.1 L239.2 236.2 L239.1 236.3 L238.9 236.4 L238.8 236.4 L238.7 236.5" fill="none" stroke="#3a3a3a" stroke-width="0.6" />
<ellipse cx="0" cy="0" rx="2.3" ry="3.9" transform="translate(252.5 233.3) rotate(-9)" fill="#fff" stroke="#3a3a3a" stroke-width="0.9" />
<path d="M248.8 233.7 L249.7 230.7 L252.2 230 L253.7 232.7 L253.1 236 L250.5 236.8Z" fill="#fff" stroke="#3a3a3a" stroke-width="0.9" />
<ellipse cx="0" cy="0" rx="1.3" ry="2.1" transform="translate(251.2 233.5) rotate(-9)" fill="#aaa" stroke="#333" stroke-width="0.9" />
<ellipse cx="0" cy="0" rx="1.7" ry="3.1" transform="translate(249.2 255.9) rotate(-9)" fill="#fff" stroke="#3a3a3a" stroke-width="0.9" />
<ellipse cx="0" cy="0" rx="0.8" ry="1.7" transform="translate(249.6 255.9) rotate(-9)" fill="none" stroke="#3a3a3a" stroke-width="0.7" />
<path d="M249.5 252.7 L249.6 252.7 L249.8 252.7 L249.9 252.8 L250.1 252.8 L250.2 252.9 L250.3 253 L250.5 253.1 L250.6 253.2 L250.7 253.3 L250.8 253.4 L251 253.6 L251.1 253.8 L251.2 254 L251.3 254.2 L251.4 254.4 L251.4 254.6 L251.5 254.8 L251.6 255.1 L251.6 255.3 L251.7 255.5 L251.7 255.8 L251.7 256 L251.7 256.3 L251.7 256.5 L251.7 256.7 L251.7 257 L251.7 257.2 L251.6 257.4 L251.6 257.6 L251.5 257.8 L251.5 258 L251.4 258.1 L251.3 258.3 L251.2 258.4 L251.1 258.5 L251 258.6 L250.9 258.7 L250.7 258.8 L250.6 258.8 L250.5 258.9" fill="none" stroke="#3a3a3a" stroke-width="0.6" />
<ellipse cx="0" cy="0" rx="2.3" ry="3.9" transform="translate(259.7 256.5) rotate(-9)" fill="#fff" stroke="#3a3a3a" stroke-width="0.9" />
<path d="M256 256.9 L256.9 253.9 L259.4 253.2 L260.9 255.9 L260.3 259.2 L257.7 260Z" fill="#fff" stroke="#3a3a3a" stroke-width="0.9" />
<ellipse cx="0" cy="0" rx="1.3" ry="2.1" transform="translate(258.4 256.7) rotate(-9)" fill="#aaa" stroke="#333" stroke-width="0.9" />
<ellipse cx="0" cy="0" rx="1.7" ry="3.1" transform="translate(261.3 312.5) rotate(-9)" fill="#fff" stroke="#3a3a3a" stroke-width="0.9" />
<ellipse cx="0" cy="0" rx="0.8" ry="1.7" transform="translate(261.7 312.5) rotate(-9)" fill="none" stroke="#3a3a3a" stroke-width="0.7" />
<path d="M261.6 309.3 L261.7 309.3 L261.9 309.3 L262 309.4 L262.2 309.4 L262.3 309.5 L262.4 309.6 L262.6 309.7 L262.7 309.8 L262.8 309.9 L262.9 310 L263.1 310.2 L263.2 310.4 L263.3 310.6 L263.4 310.8 L263.5 311 L263.5 311.2 L263.6 311.4 L263.7 311.7 L263.7 311.9 L263.8 312.1 L263.8 312.4 L263.8 312.6 L263.8 312.9 L263.8 313.1 L263.8 313.3 L263.8 313.6 L263.8 313.8 L263.7 314 L263.7 314.2 L263.6 314.4 L263.6 314.6 L263.5 314.7 L263.4 314.9 L263.3 315 L263.2 315.1 L263.1 315.2 L263 315.3 L262.8 315.4 L262.7 315.4 L262.6 315.5" fill="none" stroke="#3a3a3a" stroke-width="0.6" />
<ellipse cx="0" cy="0" rx="2.3" ry="3.9" transform="translate(268.5 311.3) rotate(-9)" fill="#fff" stroke="#3a3a3a" stroke-width="0.9" />
<path d="M264.8 311.7 L265.7 308.7 L268.2 308 L269.7 310.7 L269.1 314 L266.5 314.8Z" fill="#fff" stroke="#3a3a3a" stroke-width="0.9" />
<ellipse cx="0" cy="0" rx="1.3" ry="2.1" transform="translate(267.2 311.5) rotate(-9)" fill="#aaa" stroke="#333" stroke-width="0.9" />
<ellipse cx="0" cy="0" rx="1.7" ry="3.1" transform="translate(262 326.4) rotate(-9)" fill="#fff" stroke="#3a3a3a" stroke-width="0.9" />
<ellipse cx="0" cy="0" rx="0.8" ry="1.7" transform="translate(262.4 326.4) rotate(-9)" fill="none" stroke="#3a3a3a" stroke-width="0.7" />
<path d="M262.3 323.2 L262.4 323.2 L262.6 323.2 L262.7 323.3 L262.9 323.3 L263 323.4 L263.1 323.5 L263.3 323.6 L263.4 323.7 L263.5 323.8 L263.6 323.9 L263.8 324.1 L263.9 324.3 L264 324.5 L264.1 324.7 L264.2 324.9 L264.2 325.1 L264.3 325.3 L264.4 325.6 L264.4 325.8 L264.5 326 L264.5 326.3 L264.5 326.5 L264.5 326.8 L264.5 327 L264.5 327.2 L264.5 327.5 L264.5 327.7 L264.4 327.9 L264.4 328.1 L264.3 328.3 L264.3 328.5 L264.2 328.6 L264.1 328.8 L264 328.9 L263.9 329 L263.8 329.1 L263.7 329.2 L263.5 329.3 L263.4 329.3 L263.3 329.4" fill="none" stroke="#3a3a3a" stroke-width="0.6" />
<ellipse cx="0" cy="0" rx="2.3" ry="3.9" transform="translate(269.3 325.8) rotate(-9)" fill="#fff" stroke="#3a3a3a" stroke-width="0.9" />
<path d="M265.6 326.2 L266.5 323.2 L269 322.5 L270.5 325.2 L269.9 328.5 L267.3 329.3Z" fill="#fff" stroke="#3a3a3a" stroke-width="0.9" />
<ellipse cx="0" cy="0" rx="1.3" ry="2.1" transform="translate(268 326) rotate(-9)" fill="#aaa" stroke="#333" stroke-width="0.9" />
<ellipse cx="0" cy="0" rx="1.7" ry="3.1" transform="translate(262.5 345.7) rotate(-9)" fill="#fff" stroke="#3a3a3a" stroke-width="0.9" />
<ellipse cx="0" cy="0" rx="0.8" ry="1.7" transform="translate(262.9 345.7) rotate(-9)" fill="none" stroke="#3a3a3a" stroke-width="0.7" />
<path d="M262.8 342.5 L262.9 342.5 L263.1 342.5 L263.2 342.6 L263.4 342.6 L263.5 342.7 L263.6 342.8 L263.8 342.9 L263.9 343 L264 343.1 L264.1 343.2 L264.3 343.4 L264.4 343.6 L264.5 343.8 L264.6 344 L264.7 344.2 L264.7 344.4 L264.8 344.6 L264.9 344.9 L264.9 345.1 L265 345.3 L265 345.6 L265 345.8 L265 346.1 L265 346.3 L265 346.5 L265 346.8 L265 347 L264.9 347.2 L264.9 347.4 L264.8 347.6 L264.8 347.8 L264.7 347.9 L264.6 348.1 L264.5 348.2 L264.4 348.3 L264.3 348.4 L264.2 348.5 L264 348.6 L263.9 348.6 L263.8 348.7" fill="none" stroke="#3a3a3a" stroke-width="0.6" />
<ellipse cx="0" cy="0" rx="2.3" ry="3.9" transform="translate(271.7 344.7) rotate(-9)" fill="#fff" stroke="#3a3a3a" stroke-width="0.9" />
<path d="M268 345.1 L268.9 342.1 L271.4 341.4 L272.9 344.1 L272.3 347.4 L269.7 348.2Z" fill="#fff" stroke="#3a3a3a" stroke-width="0.9" />
<ellipse cx="0" cy="0" rx="1.3" ry="2.1" transform="translate(270.4 344.9) rotate(-9)" fill="#aaa" stroke="#333" stroke-width="0.9" />
<path d="M272.1 244 L284.8 241.9 L287.3 243.6 L289.2 247 L292.9 253.7 L292.9 265.6 L291.2 268.6 L286.5 269.4 L286.1 271.1 L274.7 273.2 L271.3 271.6 L267.9 264.7 L267.1 256.3 L269.2 247.8Z" fill="#fff" stroke="#2a2a2a" stroke-width="1.15" />
<path d="M269.2 247.8 L273 247 L277.6 248.2 L279.1 252.9 L279.6 261.3 L278.6 268.1 L275.5 271.6 L271.3 271.1 L268.1 264.7 L267.2 256.3Z" fill="#b8b8b8" stroke="#2a2a2a" stroke-width="1.0" />
<ellipse cx="0" cy="0" rx="2.7" ry="7.4" transform="translate(274.3 259.6) rotate(-8)" fill="#eee" stroke="#2a2a2a" stroke-width="1.6" />
<ellipse cx="0" cy="0" rx="1.3" ry="4.6" transform="translate(274.8 259.8) rotate(-8)" fill="#777" stroke="#2a2a2a" stroke-width="1.2" />
<path d="M277.6 247.8 L279.9 252 L280.4 260.5 L280 268.1 L277.6 270.8" fill="none" stroke="#2a2a2a" stroke-width="1.0" />
<path d="M272.1 244 L273.4 247 L277.6 247.8" fill="none" stroke="#2a2a2a" stroke-width="0.9" />
<path d="M277.6 247.8 L289.2 247" fill="none" stroke="#2a2a2a" stroke-width="0.8" />
<path d="M280.1 255 L292.9 253.9" fill="none" stroke="#2a2a2a" stroke-width="0.8" />
<path d="M280.3 261.3 L292.9 260.5" fill="none" stroke="#2a2a2a" stroke-width="0.8" />
<path d="M280 268.1 L291.2 268.6" fill="none" stroke="#2a2a2a" stroke-width="0.8" />
<path d="M267.2 252.9 L269.6 252.6 L269.8 257.1 L267.6 258.1" fill="none" stroke="#2a2a2a" stroke-width="1.3" />
<path d="M268.1 264.7 L270.4 263.9 L270.8 268.1 L271.3 271.1" fill="none" stroke="#2a2a2a" stroke-width="1.3" />
<path d="M274.7 273.2 L275.5 271.6" fill="none" stroke="#2a2a2a" stroke-width="0.9" />
<path d="M283.2 276 L295.9 274 L297.3 275.6 L297.5 279 L295.9 279.8 L283.6 281.2Z" fill="#fff" stroke="#2a2a2a" stroke-width="1.1" />
<ellipse cx="0" cy="0" rx="1.5" ry="3" transform="translate(282.6 278.6) rotate(-8)" fill="#999" stroke="#2a2a2a" stroke-width="1.2" />
<path d="M286.4 275.6 L286.6 280.6" fill="none" stroke="#2a2a2a" stroke-width="0.7" />
<path d="M295.9 274 L296.1 279.8" fill="none" stroke="#2a2a2a" stroke-width="0.7" />
<path d="M270.5 282.5 L280 281.5 L285.6 284 L285.2 292 L280.2 293.5 L281.2 297.9 L284.6 300.9 L283.6 302.9 L280.6 305.9 L280.6 311.9 L277 309.9 L274 301.9 L272 295 L271 288Z" fill="#b8b8b8" stroke="#2a2a2a" stroke-width="1.1" />
<path d="M285.6 284 L296.9 283 L299.5 287 L300 297.9 L297.5 300.9 L286.6 301.9 L284.6 298.1 L285 287Z" fill="#fff" stroke="#2a2a2a" stroke-width="1.15" />
<path d="M283.6 302.9 L296.9 301.9 L299.8 305.9 L299.8 313.9 L296.9 317.5 L283.6 319 L281 316 L280.5 305.9Z" fill="#fff" stroke="#2a2a2a" stroke-width="1.15" />
<path d="M286.6 301.9 L296.9 301.9" fill="none" stroke="#2a2a2a" stroke-width="0.8" />
<path d="M285.6 284 L287.5 288 L287.7 297 L286.6 301.9" fill="none" stroke="#2a2a2a" stroke-width="0.9" />
<path d="M287.6 291 L299.9 290.2" fill="none" stroke="#2a2a2a" stroke-width="0.8" />
<path d="M287.7 297 L300 296" fill="none" stroke="#2a2a2a" stroke-width="0.8" />
<path d="M283.6 302.9 L285.6 306.4 L285.8 314.9 L283.6 319" fill="none" stroke="#2a2a2a" stroke-width="0.9" />
<path d="M285.7 308.9 L299.8 307.9" fill="none" stroke="#2a2a2a" stroke-width="0.8" />
<path d="M285.8 313.9 L299.8 312.7" fill="none" stroke="#2a2a2a" stroke-width="0.8" />
<path d="M272 285 L279 284.2 L279.6 288 L276 289 L272.4 288.8Z" fill="#e4e4e4" stroke="#2a2a2a" stroke-width="1.0" />
<path d="M276 289 L277 293.5 L280.2 293.5" fill="none" stroke="#2a2a2a" stroke-width="1.2" />
<path d="M273 292 L275.6 291.6 L276.6 297 L279 298.1 L281.2 297.9" fill="none" stroke="#2a2a2a" stroke-width="1.2" />
<path d="M274.4 301.9 L278 300.9 L280.6 305.9" fill="none" stroke="#2a2a2a" stroke-width="1.2" />
<ellipse cx="0" cy="0" rx="1.4" ry="3.4" transform="translate(282 312.4) rotate(-8)" fill="#777" stroke="#2a2a2a" stroke-width="1.4" />
<ellipse cx="0" cy="0" rx="1.2" ry="2.6" transform="translate(282 288) rotate(-8)" fill="#888" stroke="#2a2a2a" stroke-width="1.2" />
<path d="M278 304.9 L278.8 309.7" fill="none" stroke="#2a2a2a" stroke-width="1.2" />
<path d="M304.9 265.9 L312.1 264.9 L312.5 264.9 L312.8 265.1 L313.2 265.3 L313.6 265.6 L314 266.1 L314.4 266.7 L314.8 267.3 L315.2 268.1 L315.5 268.9 L315.9 269.8 L316.2 270.8 L316.5 271.8 L316.7 272.9 L317 274 L317.2 275.1 L317.3 276.2 L317.4 277.3 L317.5 278.4 L317.6 279.5 L317.6 280.5 L317.5 281.4 L317.4 282.3 L317.3 283.2 L317.1 283.9 L316.9 284.6 L316.7 285.1 L316.4 285.6 L316.2 285.9 L315.8 286.2 L315.5 286.3 L308.3 287.3" fill="#fff" stroke="#585858" stroke-width="0.9" />
<ellipse cx="0" cy="0" rx="3.4" ry="10.8" transform="translate(306.6 276.6) rotate(-9)" fill="#fff" stroke="#585858" stroke-width="0.9" />
<ellipse cx="0" cy="0" rx="2.4" ry="9.2" transform="translate(306.7 276.6) rotate(-9)" fill="none" stroke="#262626" stroke-width="2.5" />
<ellipse cx="0" cy="0" rx="1.4" ry="6.8" transform="translate(306.8 276.6) rotate(-9)" fill="none" stroke="#585858" stroke-width="0.8" />
<ellipse cx="0" cy="0" rx="3" ry="10.6" transform="translate(318 275.2) rotate(-9)" fill="#fff" stroke="#585858" stroke-width="0.9" />
<path d="M317.3 264.6 L317.6 264.6 L317.8 264.7 L318.1 264.8 L318.3 265 L318.6 265.2 L318.9 265.6 L319.1 265.9 L319.4 266.4 L319.7 266.8 L319.9 267.4 L320.2 267.9 L320.4 268.6 L320.7 269.2 L320.9 269.9 L321.1 270.7 L321.3 271.4 L321.5 272.2 L321.7 273 L321.8 273.8 L322 274.6 L322.1 275.5 L322.2 276.3 L322.3 277.1 L322.3 277.9 L322.4 278.7 L322.4 279.4 L322.4 280.2 L322.4 280.9 L322.3 281.5 L322.3 282.2 L322.2 282.8 L322.1 283.3 L322 283.8 L321.8 284.2 L321.7 284.6 L321.5 284.9 L321.3 285.2 L321.1 285.4 L320.9 285.5 L320.7 285.6" fill="none" stroke="#585858" stroke-width="0.7" />
<path d="M367.8 268.6 L369.2 277.6 L370.4 286.6 L371.4 295.5 L372.3 304.2 L373 312.8 L373.6 321.1 L373.9 329.1 L374.1 336.8 L374.1 344 L374 350.9 L373.6 357.2 L373.1 363 L372.4 368.2 L371.5 372.9 L370.5 376.9 L369.3 380.3 L367.9 383 L366.5 385.1 L364.8 386.4 L363.1 387.1 L361.2 387 L359.3 386.2 L357.2 384.7 L355.1 382.6 L352.9 379.7 L350.7 376.2 L348.4 372 L346.1 367.3 L343.9 361.9 L341.6 356 L339.3 349.6 L337.1 342.7 L334.9 335.3 L332.7 327.6 L330.7 319.5 L328.7 311.1 L326.9 302.5 L325.1 293.8 L323.5 284.8 L322 275.8 L320.6 266.8 L319.4 257.8 L318.4 248.9 L317.5 240.2 L316.8 231.6 L316.2 223.3 L315.9 215.3 L315.7 207.6 L315.7 200.4 L315.8 193.5 L316.2 187.2 L316.7 181.4 L317.4 176.2 L318.3 171.5 L319.3 167.5 L320.5 164.1 L321.9 161.4 L323.3 159.3 L325 158 L326.7 157.3 L328.6 157.4 L330.5 158.2 L332.6 159.7 L334.7 161.8 L336.9 164.7 L339.1 168.2 L341.4 172.4 L343.7 177.1 L345.9 182.5 L348.2 188.4 L350.5 194.8 L352.7 201.7 L354.9 209.1 L357.1 216.8 L359.1 224.9 L361.1 233.3 L362.9 241.9 L364.7 250.6 L366.3 259.6 L367.8 268.6Z" fill="#fff" stroke="#fff" stroke-width="0.1" />
<path d="M337.9 162.4 L346.7 164.8 L359.5 165.6 L372.3 160.8 L380.3 156 L383.8 155.4 L381.4 152.7 L382.6 151 L383.9 149.7 L385.3 148.8 L386.8 148.3 L388.3 148.3 L389.9 148.7 L391.6 149.5 L393.3 150.7 L395 152.3 L396.8 154.4 L398.6 156.8 L400.5 159.6 L402.3 162.8 L404.2 166.4 L406 170.3 L407.9 174.6 L409.8 179.2 L411.6 184.1 L413.4 189.3 L415.2 194.8 L416.9 200.5 L418.6 206.5 L420.3 212.6 L421.9 219 L423.4 225.5 L424.9 232.1 L426.3 238.9 L427.6 245.8 L428.8 252.7 L430 259.7 L431 266.6 L432 273.6 L432.9 280.5 L433.6 287.4 L434.3 294.2 L434.9 300.8 L435.3 307.4 L435.6 313.7 L435.8 319.9 L436 325.9 L436 331.7 L435.8 337.2 L435.6 342.4 L435.3 347.4 L434.8 352 L434.2 356.3 L433.6 360.3 L432.8 363.9 L431.9 367.2 L431 370.1 L429.9 372.5 L428.7 374.6 L427.5 376.3 L426.2 377.6 L424.8 378.4 L423.3 378.9 L421.8 378.9 L420.2 378.5 L418.5 377.6 L416.8 376.4 L414.9 371.3 L411.5 372.1 L401.9 368.9 L392.3 368.1 L379.5 372.1 L369.9 377.7Z" fill="#fff" stroke="#fff" stroke-width="0.1" />
<path d="M377.8 161.7 L378.6 158.8 L379.6 156.3 L380.6 154 L381.7 152.2 L382.9 150.7 L384.2 149.5 L385.5 148.7 L386.9 148.3 L388.3 148.3 L389.8 148.6 L391.4 149.4 L393 150.4 L394.6 151.9 L396.3 153.7 L397.9 155.9 L399.7 158.4 L401.4 161.2 L403.1 164.4 L404.9 167.9 L406.7 171.7 L408.4 175.8 L410.1 180.2 L411.9 184.9 L413.6 189.8 L415.2 194.9 L416.9 200.3 L418.5 205.9 L420 211.7 L421.5 217.6 L423 223.7 L424.4 229.9 L425.7 236.2 L427 242.6 L428.2 249.1 L429.3 255.6 L430.4 262.2 L431.3 268.7 L432.2 275.3 L433 281.8 L433.7 288.2 L434.3 294.6 L434.9 300.8 L435.3 307 L435.6 313 L435.8 318.8 L435.9 324.5 L436 330 L435.9 335.2 L435.7 340.2 L435.4 345 L435.1 349.5 L434.6 353.7 L434 357.7 L433.4 361.3 L432.6 364.6 L431.8 367.6 L430.9 370.3 L429.9 372.6 L428.8 374.6 L427.6 376.2 L426.4 377.4 L425.1 378.3 L423.7 378.8 L422.3 378.9 L420.8 378.7 L419.3 378.1 L417.7 377.1 L416 375.7 L414.4 374 L412.7 371.9" fill="none" stroke="#484848" stroke-width="1.0" />
<path d="M378.9 156.7 L379.9 154.8 L381 153.2 L382.1 151.9 L383.3 150.9 L384.5 150.2 L385.8 149.9 L387.2 149.9 L388.5 150.2 L390 150.8 L391.4 151.8 L393 153.1 L394.5 154.7 L396.1 156.6 L397.6 158.8 L399.2 161.3 L400.9 164.1 L402.5 167.2 L404.1 170.5 L405.7 174.2 L407.4 178 L409 182.2 L410.6 186.5 L412.1 191.1 L413.7 195.9 L415.2 200.9 L416.7 206 L418.2 211.3 L419.6 216.8 L420.9 222.4 L422.2 228.1 L423.5 233.9 L424.7 239.9 L425.9 245.8 L427 251.9 L428 257.9 L428.9 264 L429.8 270.1 L430.6 276.1 L431.3 282.2 L432 288.1 L432.6 294 L433 299.8 L433.4 305.6 L433.8 311.2 L434 316.6 L434.1 321.9 L434.2 327.1 L434.2 332 L434.1 336.8 L433.9 341.4 L433.6 345.7 L433.2 349.8 L432.7 353.7 L432.2 357.3 L431.6 360.6 L430.9 363.7 L430.1 366.5 L429.3 369 L428.3 371.2 L427.3 373 L426.3 374.6 L425.2 375.9 L424 376.8 L422.7 377.4 L421.4 377.7 L420.1 377.7 L418.7 377.3 L417.2 376.7 L415.8 375.7 L414.3 374.3" fill="none" stroke="#585858" stroke-width="0.6" />
<path d="M377.9 155.5 L379.2 154.3 L380.6 153.5 L382 153.1 L383.5 153 L385 153.4 L386.6 154.1 L388.2 155.2 L389.9 156.7 L391.6 158.5 L393.4 160.7 L395.1 163.3 L396.9 166.2 L398.7 169.5 L400.4 173 L402.2 176.9 L404 181.1 L405.8 185.5 L407.5 190.3 L409.2 195.2 L410.9 200.5 L412.5 205.9 L414.1 211.5 L415.6 217.4 L417.1 223.3 L418.6 229.5 L419.9 235.7 L421.2 242 L422.4 248.5 L423.6 254.9 L424.6 261.4 L425.6 267.9 L426.5 274.4 L427.3 280.9 L428 287.3 L428.6 293.6 L429.1 299.9 L429.5 306 L429.8 312 L430 317.8 L430.1 323.4 L430.1 328.8 L430 334 L429.7 339 L429.4 343.7 L429 348.1 L428.5 352.3 L427.9 356.1 L427.1 359.6 L426.3 362.9 L425.4 365.7 L424.4 368.3 L423.3 370.4 L422.2 372.2 L420.9 373.7 L419.6 374.8 L418.3 375.4 L416.8 375.8 L415.3 375.7 L413.8 375.2 L412.2 374.4" fill="none" stroke="#585858" stroke-width="0.8" />
<path d="M375.7 157.2 L377 156.8 L378.4 156.8 L379.8 157.1 L381.3 157.7 L382.9 158.7 L384.4 159.9 L386 161.5 L387.6 163.4 L389.2 165.6 L390.9 168.1 L392.6 170.9 L394.2 174 L395.9 177.3 L397.5 181 L399.2 184.8 L400.8 189 L402.4 193.3 L404 197.9 L405.6 202.7 L407.1 207.6 L408.6 212.7 L410 218 L411.4 223.5 L412.7 229 L414 234.7 L415.2 240.5 L416.4 246.3 L417.5 252.2 L418.5 258.1 L419.4 264.1 L420.3 270.1 L421.1 276 L421.8 281.9 L422.4 287.8 L423 293.6 L423.4 299.3 L423.8 304.9 L424 310.4 L424.2 315.7 L424.3 320.9 L424.3 325.9 L424.2 330.8 L424 335.4 L423.8 339.9 L423.4 344.1 L423 348 L422.4 351.8 L421.8 355.2 L421.1 358.4 L420.3 361.3 L419.4 363.9 L418.5 366.2 L417.5 368.2 L416.4 369.9 L415.2 371.3 L414 372.4 L412.7 373.1 L411.4 373.5 L410 373.6 L408.6 373.4" fill="none" stroke="#585858" stroke-width="0.8" />
<path d="M376.2 160.1 L377.5 160.6 L378.8 161.3 L380.2 162.4 L381.6 163.6 L383 165.2 L384.5 167 L385.9 169 L387.4 171.3 L388.9 173.8 L390.3 176.5 L391.8 179.5 L393.3 182.7 L394.7 186.1 L396.2 189.7 L397.6 193.4 L399.1 197.4 L400.5 201.5 L401.8 205.8 L403.2 210.3 L404.5 214.8 L405.8 219.6 L407 224.4 L408.2 229.3 L409.4 234.3 L410.5 239.4 L411.5 244.6 L412.5 249.8 L413.5 255.1 L414.3 260.4 L415.2 265.6 L415.9 270.9 L416.6 276.2 L417.3 281.5 L417.8 286.7 L418.3 291.9 L418.8 297 L419.1 302 L419.4 306.9 L419.6 311.8 L419.8 316.5 L419.8 321.1 L419.8 325.5 L419.7 329.8 L419.6 334 L419.3 337.9 L419 341.7 L418.7 345.3 L418.2 348.7 L417.7 351.9 L417.1 354.9 L416.5 357.7 L415.7 360.2 L415 362.5 L414.1 364.5 L413.2 366.3 L412.3 367.9 L411.3 369.2 L410.2 370.2 L409.1 371 L407.9 371.5" fill="none" stroke="#585858" stroke-width="0.7" />
<path d="M337.9 162.4 C339.4 162.8 343.1 164.3 346.7 164.8 C350.3 165.3 355.2 166.3 359.5 165.6 C363.8 164.9 368.8 162.4 372.3 160.8 C375.8 159.2 378.4 156.9 380.3 156 C382.2 155.1 383.2 155.5 383.8 155.4" fill="none" stroke="#484848" stroke-width="0.9" />
<path d="M414.9 371.3 C414.3 371.4 413.7 372.5 411.5 372.1 C409.3 371.7 405.1 369.6 401.9 368.9 C398.7 368.2 396 367.6 392.3 368.1 C388.6 368.6 383.2 370.5 379.5 372.1 C375.8 373.7 371.5 376.8 369.9 377.7" fill="none" stroke="#484848" stroke-width="0.9" />
<ellipse cx="0" cy="0" rx="23.2" ry="116.3" transform="translate(344.9 272.2) rotate(-9)" fill="none" stroke="#484848" stroke-width="1.0" />
<ellipse cx="0" cy="0" rx="20.6" ry="114.7" transform="translate(344.1 272.3) rotate(-9)" fill="none" stroke="#585858" stroke-width="0.7" />
<ellipse cx="0" cy="0" rx="21.9" ry="112.3" transform="translate(350.1 271.4) rotate(-9)" fill="none" stroke="#585858" stroke-width="0.7" />
<ellipse cx="0" cy="0" rx="20.4" ry="107.3" transform="translate(356.6 270.4) rotate(-9)" fill="none" stroke="#484848" stroke-width="0.9" />
<ellipse cx="0" cy="0" rx="20.7" ry="106.3" transform="translate(359.4 269.9) rotate(-9)" fill="none" stroke="#585858" stroke-width="0.7" />
<ellipse cx="0" cy="0" rx="5" ry="2.3" transform="translate(397.9 354.5) rotate(-14)" fill="#bbb" stroke="#555" stroke-width="0.8" />
<path d="M335.2 231.8 L355.1 227.6 L355.9 234.8" fill="none" stroke="#3a3a3a" stroke-width="0.8" />
<path d="M343.2 198.5 L347.6 198.2" fill="none" stroke="#3a3a3a" stroke-width="0.8" />
<path d="M351.4 198.2 L351.4 226.5" fill="none" stroke="#3a3a3a" stroke-width="0.8" />
<path d="M353.2 204 L353.2 226" fill="none" stroke="#585858" stroke-width="0.7" />
<path d="M348.7 312.9 L365.6 311.6 L369 325.6" fill="none" stroke="#3a3a3a" stroke-width="0.8" />
<path d="M357.2 314.2 L365.2 316.3 L365.2 312.9" fill="none" stroke="#3a3a3a" stroke-width="0.7" />
<path d="M345.3 315.4 L351.7 330" fill="none" stroke="#585858" stroke-width="0.7" />
<ellipse cx="0" cy="0" rx="10.3" ry="41" transform="translate(341.2 272.3) rotate(-9.5)" fill="#fff" stroke="#3a3a3a" stroke-width="1.0" />
<ellipse cx="0" cy="0" rx="9.3" ry="39.2" transform="translate(342.1 272.3) rotate(-9.5)" fill="none" stroke="#585858" stroke-width="0.7" />
<path d="M337.4 237.6 L338.1 238 L338.8 238.7 L339.5 239.5 L340.3 240.5 L341 241.7 L341.8 243.1 L342.5 244.6 L343.3 246.3 L344 248.1 L344.7 250.1 L345.4 252.2 L346.1 254.4 L346.8 256.7 L347.4 259.1 L346.3 266.1 L345.8 264.7 L345.3 263.4 L344.7 262.1 L344.1 261 L343.4 260 L342.8 259.1 L342.1 258.3 L341.4 257.8 L340.8 257.3 L340.1 257.1Z" fill="none" stroke="#3a3a3a" stroke-width="0.7" />
<path d="M350.8 277 L351.1 279.6 L351.3 282.2 L351.5 284.7 L351.7 287.1 L351.8 289.4 L351.8 291.6 L351.8 293.8 L351.7 295.8 L351.5 297.7 L351.4 299.4 L351.1 301 L350.8 302.4 L350.5 303.7 L350.1 304.7 L346 286.3 L346.5 285.6 L346.9 284.7 L347.3 283.7 L347.6 282.6 L347.8 281.4 L347.9 280 L348 278.6 L348 277.1 L348 275.6 L347.9 274Z" fill="none" stroke="#3a3a3a" stroke-width="0.7" />
<path d="M346.2 307 L345.5 306.6 L344.8 305.9 L344.1 305.1 L343.3 304.1 L342.6 302.9 L341.8 301.5 L341.1 300 L340.3 298.3 L339.6 296.5 L338.9 294.5 L338.2 292.4 L337.5 290.2 L336.8 287.9 L336.2 285.5 L336.9 278.5 L337.4 279.9 L337.9 281.2 L338.5 282.5 L339.1 283.6 L339.8 284.6 L340.4 285.5 L341.1 286.3 L341.8 286.8 L342.4 287.3 L343.1 287.5Z" fill="none" stroke="#3a3a3a" stroke-width="0.7" />
<path d="M332.8 267.6 L332.5 265 L332.3 262.4 L332.1 259.9 L331.9 257.5 L331.8 255.2 L331.8 253 L331.8 250.8 L331.9 248.8 L332.1 246.9 L332.2 245.2 L332.5 243.6 L332.8 242.2 L333.1 240.9 L333.5 239.9 L337.2 258.3 L336.7 259 L336.3 259.9 L335.9 260.9 L335.6 262 L335.4 263.2 L335.3 264.6 L335.2 266 L335.2 267.5 L335.2 269 L335.3 270.6Z" fill="none" stroke="#3a3a3a" stroke-width="0.7" />
<ellipse cx="0" cy="0" rx="5.8" ry="13" transform="translate(340 271.6) rotate(-9.5)" fill="#fff" stroke="#3a3a3a" stroke-width="1.0" />
<ellipse cx="0" cy="0" rx="4.3" ry="11.2" transform="translate(340.6 271.7) rotate(-9.5)" fill="#d8d8d8" stroke="#3a3a3a" stroke-width="1.5" />
<ellipse cx="0" cy="0" rx="2.9" ry="9.2" transform="translate(341.4 271.9) rotate(-9.5)" fill="#fff" stroke="#3a3a3a" stroke-width="0.8" />
<path d="M492.7 110.7 C491 113.3 488.8 117.5 487.5 121 C486.2 124.5 485.9 126.6 485.2 131.4 C484.5 136.2 483.8 143.6 483.4 150 C483 156.4 482.9 163.7 482.9 170 C482.9 176.3 482.9 181.3 483.2 188 C483.5 194.7 483.9 202.2 484.6 210 C485.3 217.8 486.5 227 487.6 235 C488.7 243 489.7 250.5 491 258 C492.3 265.5 493.8 273 495.2 280 C496.6 287 497.8 293.3 499.2 300 C500.6 306.7 501.9 313.6 503.5 320 C505.1 326.4 507.1 333.1 508.8 338.4 C510.5 343.7 511.9 347.9 513.5 352 C515.1 356.1 516.6 359.6 518.4 363.3 C520.2 367 522.3 370.8 524.5 374 C526.7 377.2 529.4 380.2 531.8 382.5 C534.2 384.8 536.4 386.4 539 388 C541.6 389.6 544 390.8 547.2 392.1 C550.4 393.4 554.2 394.7 558 395.6 C561.8 396.5 565.7 397.4 569.9 397.6 C574.1 397.8 578.8 397.5 583 396.6 C587.2 395.7 591.4 394.2 594.9 392.4 C598.4 390.6 601.1 388.5 604 386 C606.9 383.5 610 380.6 612.3 377.4 C614.6 374.2 616.4 370.8 618 367 C619.6 363.2 620.7 359.7 621.8 354.9 C622.9 350.1 623.8 344.2 624.4 338 C625 331.8 625.5 323.8 625.7 317.5 C625.9 311.2 625.9 306.2 625.8 300 C625.7 293.8 625.6 286.3 625.2 280 C624.8 273.7 624.1 267.8 623.4 262 C622.7 256.2 622 251.3 621.2 245 C620.4 238.7 619.6 230.7 618.6 224 C617.6 217.3 616.4 211.8 615 205 C613.6 198.2 612 190.2 610.4 183 C608.8 175.8 607.1 168.5 605.5 162 C603.9 155.5 602.3 149.8 600.5 144 C598.7 138.2 597.1 132.7 594.9 127.4 C592.6 122.1 589.9 116.6 587 112 C584.1 107.4 581.1 103.5 577.4 100 C573.7 96.5 569.2 93.3 565 91 C560.8 88.7 556.2 87.1 552 86 C547.8 84.9 544 84.6 540 84.6 C536 84.6 531.8 85.2 528 86.2 C524.2 87.2 520.8 88.4 517 90.4 C513.2 92.4 508.2 95.9 505 98.4 C501.8 100.9 499.6 103.2 497.5 105.2 C495.4 107.2 494.4 108.1 492.7 110.7Z" fill="#fff" stroke="#fff" stroke-width="0.1" />
<path d="M492.7 110.7 C491.8 112.4 488.8 117.5 487.5 121 C486.2 124.5 485.9 126.6 485.2 131.4 C484.5 136.2 483.8 143.6 483.4 150 C483 156.4 482.9 163.7 482.9 170 C482.9 176.3 482.9 181.3 483.2 188 C483.5 194.7 483.9 202.2 484.6 210 C485.3 217.8 486.5 227 487.6 235 C488.7 243 489.7 250.5 491 258 C492.3 265.5 493.8 273 495.2 280 C496.6 287 497.8 293.3 499.2 300 C500.6 306.7 501.9 313.6 503.5 320 C505.1 326.4 507.1 333.1 508.8 338.4 C510.5 343.7 511.9 347.9 513.5 352 C515.1 356.1 516.6 359.6 518.4 363.3 C520.2 367 522.3 370.8 524.5 374 C526.7 377.2 529.4 380.2 531.8 382.5 C534.2 384.8 536.4 386.4 539 388 C541.6 389.6 544 390.8 547.2 392.1 C550.4 393.4 554.2 394.7 558 395.6 C561.8 396.5 565.7 397.4 569.9 397.6 C574.1 397.8 578.8 397.5 583 396.6 C587.2 395.7 591.4 394.2 594.9 392.4 C598.4 390.6 601.1 388.5 604 386 C606.9 383.5 610 380.6 612.3 377.4 C614.6 374.2 616.4 370.8 618 367 C619.6 363.2 620.7 359.7 621.8 354.9 C622.9 350.1 623.8 344.2 624.4 338 C625 331.8 625.5 323.8 625.7 317.5 C625.9 311.2 625.9 306.2 625.8 300 C625.7 293.8 625.6 286.3 625.2 280 C624.8 273.7 624.1 267.8 623.4 262 C622.7 256.2 622 251.3 621.2 245 C620.4 238.7 619.6 230.7 618.6 224 C617.6 217.3 616.4 211.8 615 205 C613.6 198.2 612 190.2 610.4 183 C608.8 175.8 607.1 168.5 605.5 162 C603.9 155.5 602.3 149.8 600.5 144 C598.7 138.2 597.1 132.7 594.9 127.4 C592.6 122.1 589.9 116.6 587 112 C584.1 107.4 579 102 577.4 100" fill="none" stroke="#454545" stroke-width="1.0" />
<path d="M493 111.4 C493.8 110.5 495.8 108 497.9 105.9 C500 103.9 502.2 101.5 505.4 99.1 C508.6 96.6 513.5 93.2 517.3 91.2 C521.1 89.2 524.4 88 528.2 87 C532 86 536 85.4 540 85.4 C544 85.4 547.8 85.7 551.9 86.8 C556 87.9 560.5 89.5 564.7 91.8 C568.9 94.1 574.9 99.1 576.9 100.6" fill="none" stroke="#7e7e7e" stroke-width="2.1" stroke-linecap="butt"/>
<path d="M492.7 110.7 C493.9 110.9 497.7 110.1 500.2 111.9 C502.7 113.7 505.3 117 507.8 121.3 C510.3 125.6 513.2 132.4 515.3 137.6 C517.4 142.8 519 147.8 520.5 152.4 C522 157 522.9 160.1 524.2 165 C525.5 169.9 527 176.2 528.4 182 C529.8 187.8 531 192.8 532.6 200 C534.2 207.2 536.2 216.3 537.8 225 C539.4 233.7 540.8 242.8 542 252 C543.2 261.2 544.1 272 545 280 C545.9 288 546.8 291.9 547.2 300 C547.7 308.1 548 319.2 547.7 328.8 C547.4 338.4 546.7 349.6 545.3 357.6 C543.9 365.6 541.4 372.6 539.5 376.8 C537.6 381 534.7 381.9 533.7 382.9" fill="none" stroke="#454545" stroke-width="0.9" />
<path d="M510.3 130.1 C510 129.8 509.4 129.2 508.4 128.2 C507.3 127.1 505.5 124.7 504 123.8 C502.5 122.9 501 122.4 499.6 122.8 C498.2 123.2 497.1 124.2 495.8 126.3 C494.6 128.3 493.1 131.1 492.1 135.1 C491.1 139.1 490.2 145.2 489.6 150.2 C489 155.2 488.5 158.4 488.2 165 C487.9 171.6 487.5 180 487.8 190 C488.1 200 488.8 212.5 490 225 C491.2 237.5 493.1 252.5 495 265 C496.9 277.5 499.2 290.8 501.1 300 C503 309.2 504.6 313.6 506.5 320 C508.4 326.4 510.7 333.2 512.6 338.4 C514.5 343.6 516.1 347.2 518 351 C519.9 354.8 522.1 358.6 524.1 361.4 C526.1 364.2 528.1 366.2 530 368 C531.9 369.8 533.8 371.5 535.7 372 C537.6 372.5 540.5 371.2 541.4 371" fill="none" stroke="#777" stroke-width="0.7" />
<path d="M510.9 132 C510.3 131.3 508.2 128.5 507.1 127.6 C506 126.6 505.2 126 504 126.3 C502.8 126.6 501 127.6 499.6 129.5 C498.2 131.4 496.9 134.2 495.8 137.6 C494.8 141 493.9 145.6 493.3 150.2 C492.7 154.8 492.3 158.4 492 165 C491.7 171.6 491.2 180 491.5 190 C491.8 200 492.6 212.5 493.9 225 C495.1 237.5 497.1 252.5 499 265 C500.9 277.5 503 290.5 505 300 C507 309.5 508.8 314.6 511 322 C513.2 329.4 516.2 338.8 518.4 344.1 C520.6 349.4 522.1 351.1 524 354 C525.9 356.9 527.6 359.4 529.9 361.4 C532.2 363.4 535.4 365.9 537.6 366.2 C539.8 366.5 542.3 363.8 543.3 363.3" fill="none" stroke="#777" stroke-width="0.7" />
<path d="M512.6 134.6 C512 134.2 510.1 132.2 509 132.4 C507.9 132.6 506.8 134.1 505.9 135.8 C505 137.5 504.2 139.9 503.4 142.7 C502.6 145.5 501.8 149 501.2 152.7 C500.6 156.4 500.2 158.8 499.9 165 C499.6 171.2 498.8 180 499.2 190 C499.6 200 501.1 212.5 502.6 225 C504.1 237.5 506.2 253 508 265 C509.8 277 511.6 287.8 513.6 297 C515.6 306.2 517.8 313.5 520 320 C522.2 326.5 524.8 331.7 527 336 C529.2 340.3 531 343.1 533 346 C535 348.9 537.1 351.6 539 353.5 C540.9 355.4 543.4 356.9 544.3 357.6" fill="none" stroke="#666" stroke-width="0.8" />
<path d="M514.6 137.8 C514.2 137.5 513.1 136 512.1 136.1 C511.1 136.2 509.5 137 508.4 138.3 C507.3 139.6 506.2 141.5 505.4 143.9 C504.6 146.3 504.1 149.2 503.6 152.7 C503.1 156.2 502.8 158.8 502.6 165 C502.4 171.2 502.2 180 502.6 190 C503 200 503.9 212.5 505.2 225 C506.5 237.5 508.6 253 510.5 265 C512.4 277 514.2 287.5 516.5 297 C518.8 306.5 521.9 315.6 524.1 322 C526.4 328.4 528.1 331.6 530 335.5 C531.9 339.4 534 342.6 535.7 345.1 C537.4 347.6 538.6 349.1 540 350.5 C541.4 351.9 543.6 352.9 544.3 353.4" fill="none" stroke="#2a2a2a" stroke-width="1.7" />
<line x1="615.6" y1="371.4" x2="617" y2="369.6" stroke="#777" stroke-width="0.7"/>
<path d="M434.3 246.3 L438.9 245.7 L439.3 245.7 L439.7 245.9 L440 246.1 L440.4 246.4 L440.8 246.9 L441.2 247.4 L441.5 248.1 L441.9 248.8 L442.3 249.6 L442.6 250.5 L442.9 251.5 L443.2 252.5 L443.4 253.5 L443.7 254.6 L443.9 255.7 L444 256.8 L444.1 257.9 L444.2 258.9 L444.3 260 L444.3 261 L444.2 261.9 L444.1 262.8 L444 263.6 L443.9 264.4 L443.7 265 L443.4 265.6 L443.2 266 L442.9 266.3 L442.6 266.6 L442.3 266.7 L437.7 267.3" fill="#fff" stroke="#585858" stroke-width="0.9" />
<ellipse cx="0" cy="0" rx="3.3" ry="10.6" transform="translate(436 256.8) rotate(-9)" fill="#fff" stroke="#585858" stroke-width="0.9" />
<ellipse cx="0" cy="0" rx="2.3" ry="9" transform="translate(436.1 256.8) rotate(-9)" fill="none" stroke="#262626" stroke-width="2.4" />
<ellipse cx="0" cy="0" rx="1.3" ry="6.6" transform="translate(436.2 256.8) rotate(-9)" fill="none" stroke="#585858" stroke-width="0.8" />
<ellipse cx="0" cy="0" rx="3.4" ry="13.4" transform="translate(459.8 255.2) rotate(-9)" fill="none" stroke="#333" stroke-width="1.6" />
<ellipse cx="0" cy="0" rx="2.6" ry="11.4" transform="translate(460.8 255.1) rotate(-9)" fill="none" stroke="#585858" stroke-width="0.8" />
<path d="M474.6 243.1 L478 242.6 L478.4 242.6 L478.7 242.8 L479.1 243 L479.5 243.4 L479.9 243.9 L480.2 244.5 L480.6 245.1 L481 245.9 L481.3 246.8 L481.7 247.7 L482 248.7 L482.3 249.8 L482.5 250.9 L482.8 252 L483 253.2 L483.1 254.4 L483.3 255.5 L483.3 256.6 L483.4 257.7 L483.4 258.8 L483.4 259.8 L483.3 260.7 L483.2 261.6 L483.1 262.4 L482.9 263 L482.7 263.6 L482.4 264.1 L482.2 264.4 L481.9 264.6 L481.6 264.8 L478.2 265.3" fill="#fff" stroke="#585858" stroke-width="0.9" />
<ellipse cx="0" cy="0" rx="3.2" ry="11.2" transform="translate(476.4 254.2) rotate(-9)" fill="#fff" stroke="#585858" stroke-width="0.9" />
<ellipse cx="0" cy="0" rx="2.5" ry="9.7" transform="translate(476.4 254.2) rotate(-9)" fill="none" stroke="#2a2a2a" stroke-width="2.1" />
<ellipse cx="0" cy="0" rx="1.3" ry="7.2" transform="translate(476.6 254.2) rotate(-9)" fill="none" stroke="#585858" stroke-width="0.8" />
<path d="M437 288.9 L490.4 280.2" fill="none" stroke="#585858" stroke-width="0.9" />
<path d="M435.8 288.9 L489.6 280.3 L490 280.3 L490.4 280.7 L490.8 281.2 L491.3 282 L491.7 283 L492 284.1 L492.3 285.3 L492.6 286.6 L492.7 287.9 L492.8 289.1 L492.8 290.3 L492.7 291.4 L492.6 292.2 L492.3 292.9 L492 293.3 L491.6 293.5 L437.8 302.1" fill="#fff" stroke="#585858" stroke-width="0.9" />
<ellipse cx="0" cy="0" rx="2" ry="6.7" transform="translate(436.8 295.5) rotate(-9)" fill="#fff" stroke="#333" stroke-width="1.0" />
<ellipse cx="0" cy="0" rx="1.1" ry="5" transform="translate(437 295.5) rotate(-9)" fill="#ccc" stroke="#333" stroke-width="0.8" />
<path d="M413.5 410.3 L418.5 410.3 L418.5 408.8 L417.6 407.6 L417.6 405.4 Q416 403.6 414.4 405.4 L414.4 407.6 L413.5 408.8Z" fill="#fff" stroke="#333" stroke-width="1.0" />
<line x1="414.4" y1="407.6" x2="417.6" y2="407.6" stroke="#333" stroke-width="0.7"/>
<line x1="420.5" y1="408" x2="434.5" y2="408" stroke="#999" stroke-width="1.0"/>
<path d="M651.3 226.5 L651.5 228.1 L651.8 229.7 L651.9 231.3 L652.1 232.8 L652.2 234.4 L652.4 235.9 L652.5 237.4 L652.6 238.8 L652.7 240.3 L652.9 241.8 L653.1 243.3 L653.3 244.8 L653.5 246.4 L653.7 248 L653.9 249.6 L654.1 251.2 L654.3 252.8 L654.5 254.4 L654.6 255.9 L654.7 257.3 L654.8 258.7 L654.8 260 L654.7 261.2 L654.7 262.3 L654.6 263.4 L654.5 264.4 L654.4 265.4 L654.3 266.4 L654.2 267.4 L654.2 268.5 L654.1 269.7 L654.1 270.9 L654.1 272.1 L654.2 273.5 L654.2 274.8 L654.2 276.1 L654.2 277.3 L654.1 278.5 L654 279.5 L653.9 280.5 L653.7 281.2 L653.5 281.9 L653.3 282.4 L653 282.7 L652.7 283 L652.4 283.3 L652.1 283.5 L651.9 283.8 L651.6 284.1 L651.3 284.5 L651.1 285 L650.9 285.6 L650.7 286.2 L650.5 286.9 L650.3 287.6 L650.1 288.2 L649.9 288.8 L649.6 289.2 L649.3 289.5 L649 289.7 L648.7 289.7 L648.3 289.5 L647.9 289.1 L647.5 288.7 L647.1 288.1 L646.7 287.5 L646.3 287 L645.9 286.4 L645.5 286 L645.2 285.6 L644.8 285.3 L644.4 285.1 L644.1 284.9 L643.7 284.7 L643.4 284.6 L643 284.4 L642.6 284.1 L642.2 283.7 L641.8 283.2 L641.4 282.5 L641 281.7 L640.6 280.8 L640.1 279.7 L639.7 278.5 L639.3 277.3 L638.9 276 L638.5 274.8 L638.1 273.6 L637.7 272.4 L637.3 271.3 L636.9 270.3 L636.4 269.4 L636 268.5 L635.6 267.5 L635.2 266.6 L634.8 265.6 L634.3 264.6 L633.9 263.5 L633.5 262.3 L633.1 261 L632.7 259.6 L632.3 258.1 L632 256.5 L631.6 255 L631.3 253.4 L631 251.8 L630.7 250.2 L630.4 248.7 L630.1 247.1 L629.8 245.7 L629.4 244.2 L629.1 242.8 L628.7 241.3 L628.4 239.9 L628 238.4 L627.6 236.9 L627.2 235.4 L626.9 233.9 L626.6 232.3 L626.3 230.7 L626.1 229.1 L625.8 227.5 L625.7 225.9 L625.5 224.4 L625.4 222.8 L625.2 221.3 L625.1 219.8 L625 218.4 L624.9 216.9 L624.7 215.4 L624.5 213.9 L624.3 212.4 L624.1 210.8 L623.9 209.2 L623.7 207.6 L623.5 206 L623.3 204.4 L623.1 202.8 L623 201.3 L622.9 199.9 L622.8 198.5 L622.8 197.2 L622.9 196 L622.9 194.9 L623 193.8 L623.1 192.8 L623.2 191.8 L623.3 190.8 L623.4 189.8 L623.4 188.7 L623.5 187.5 L623.5 186.3 L623.5 185.1 L623.4 183.7 L623.4 182.4 L623.4 181.1 L623.4 179.9 L623.5 178.7 L623.6 177.7 L623.7 176.7 L623.9 176 L624.1 175.3 L624.3 174.8 L624.6 174.5 L624.9 174.2 L625.2 173.9 L625.5 173.7 L625.7 173.4 L626 173.1 L626.3 172.7 L626.5 172.2 L626.7 171.6 L626.9 171 L627.1 170.3 L627.3 169.6 L627.5 169 L627.7 168.4 L628 168 L628.3 167.7 L628.6 167.5 L628.9 167.5 L629.3 167.7 L629.7 168.1 L630.1 168.5 L630.5 169.1 L630.9 169.7 L631.3 170.2 L631.7 170.8 L632.1 171.2 L632.4 171.6 L632.8 171.9 L633.2 172.1 L633.5 172.3 L633.9 172.5 L634.2 172.6 L634.6 172.8 L635 173.1 L635.4 173.5 L635.8 174 L636.2 174.7 L636.6 175.5 L637 176.4 L637.5 177.5 L637.9 178.7 L638.3 179.9 L638.7 181.2 L639.1 182.4 L639.5 183.6 L639.9 184.8 L640.3 185.9 L640.7 186.9 L641.2 187.8 L641.6 188.7 L642 189.7 L642.4 190.6 L642.8 191.6 L643.3 192.6 L643.7 193.7 L644.1 194.9 L644.5 196.2 L644.9 197.6 L645.3 199.1 L645.6 200.7 L646 202.2 L646.3 203.8 L646.6 205.4 L646.9 207 L647.2 208.5 L647.5 210.1 L647.8 211.5 L648.2 213 L648.5 214.4 L648.9 215.9 L649.2 217.3 L649.6 218.8 L650 220.3 L650.4 221.8 L650.7 223.3 L651 224.9Z" fill="#fff" stroke="#222" stroke-width="1.1" />
<path d="M642.5 228.5 L642.6 229.6 L642.8 230.6 L643 231.7 L643.1 232.7 L641.7 233.7 L641.8 234.6 L641.9 235.6 L642.1 236.6 L642.2 237.5 L642.4 238.5 L642.5 239.4 L642.6 240.4 L642.7 241.3 L642.3 241.6 L642.4 242.5 L642.5 243.4 L642.6 244.2 L642.7 245.1 L642.8 245.9 L642.9 246.7 L643 247.5 L643.1 248.3 L643.2 249.1 L643.3 249.9 L643.3 250.6 L643.4 251.4 L644 253.2 L644.1 253.9 L644.2 254.7 L644.2 255.4 L644.3 256.1 L644.3 256.7 L644.3 257.4 L644.4 258 L644.4 258.7 L645.8 261.5 L645.7 262.2 L645.7 262.8 L645.7 263.3 L645.7 263.9 L645.6 264.4 L645.6 264.9 L645.6 265.4 L645.5 265.9 L645.4 266.3 L645.4 266.7 L645.3 267.1 L645.2 267.5 L645.2 267.8 L645.1 268.1 L645 268.4 L644.1 265.8 L644 266 L643.9 266.2 L643.9 266.4 L643.8 266.5 L643.7 266.6 L643.6 266.7 L643.5 266.7 L643.5 266.8 L643.4 266.8 L643 264.9 L642.9 264.9 L642.8 264.8 L642.7 264.7 L642.6 264.6 L642.5 264.5 L642.4 264.3 L642.2 264.1 L642.1 263.9 L642 263.6 L641.9 263.4 L641.7 263.1 L641.6 262.8 L641.6 264.1 L641.4 263.8 L641.3 263.4 L641.1 263 L640.9 262.5 L640.8 262.1 L640.6 261.6 L640.4 261.1 L640.3 260.5 L640.1 260 L639.4 261.9 L639.1 261.3 L638.9 260.6 L638.7 260 L638.5 259.3 L638.3 258.5 L638 257.8 L637.8 257 L637.6 256.3 L637.4 255.5 L637.1 254.7 L636.9 253.8 L636.7 253 L636.5 252.1 L636.2 251.2 L637.1 248.6 L637 247.8 L636.8 246.9 L636.6 246 L636.4 245.2 L636.2 244.3 L636 243.4 L635.8 242.4 L635.6 241.5 L635.5 240.6 L635.7 239.1 L635.5 238.2 L635.3 237.3 L635.2 236.4 L635 235.5 L634.8 234.6 L634.7 233.6 L634.5 232.7 L634.3 231.8 L634.2 230.9 L634 229.9 L633.9 229 L633.7 228.1 L633.1 227.1 L632.9 226.1 L632.7 225.1 L632.6 224.2 L632.5 223.2 L632.3 222.2 L632.2 221.3 L632 220.3 L631.9 219.4 L630.1 217.8 L630 216.8 L629.9 215.8 L629.8 214.8 L629.6 213.8 L629.5 212.8 L629.4 211.9 L629.4 210.9 L629.3 210 L629.2 209.1 L629.1 208.2 L629 207.3 L629 206.4 L628.9 205.5 L628.9 204.7 L628.8 203.9 L628.8 203.1 L630.2 204.1 L630.2 203.4 L630.1 202.7 L630.1 202.1 L630.1 201.4 L630 200.8 L630 200.1 L630 199.5 L630 199 L630.5 199.9 L630.5 199.4 L630.5 198.9 L630.5 198.4 L630.5 198 L630.5 197.5 L630.5 197.1 L630.5 196.7 L630.5 196.4 L630.5 196.1 L630.6 195.7 L630.6 195.5 L630.6 195.2 L630.3 193.2 L630.3 193 L630.4 192.8 L630.5 192.6 L630.5 192.4 L630.6 192.3 L630.7 192.2 L630.8 192.1 L630.9 192.1 L630.4 189.1 L630.6 189 L630.7 189.1 L630.9 189.1 L631 189.2 L631.2 189.3 L631.4 189.4 L631.5 189.6 L631.7 189.8 L631.9 190 L632 190.2 L632.2 190.5 L632.4 190.8 L632.6 191.1 L632.8 191.4 L633 191.8 L633.2 192.2 L633.1 195.4 L633.3 195.8 L633.5 196.3 L633.6 196.7 L633.8 197.2 L634 197.7 L634.1 198.3 L634.3 198.8 L634.5 199.4 L634.6 201.4 L634.7 202 L634.9 202.6 L635.1 203.2 L635.2 203.9 L635.4 204.5 L635.6 205.2 L635.8 205.9 L635.9 206.6 L636.1 207.3 L636.3 208.1 L636.4 208.8 L636.6 209.6 L637.1 209.4 L637.3 210.2 L637.4 211 L637.6 211.9 L637.8 212.8 L638 213.6 L638.2 214.5 L638.4 215.4 L638.6 216.4 L638.8 217.3 L640.3 217.1 L640.5 218.1 L640.7 219.1 L640.9 220.2 L641.1 221.2 L641.3 222.2 L641.5 223.3 L641.7 224.3 L641.9 225.4 L642.1 226.4 L642.3 227.5Z" fill="#fff" stroke="#555" stroke-width="0.8" />
<ellipse cx="643.2" cy="228" rx="1" ry="1" fill="#161616"/>
<ellipse cx="645.6" cy="229.7" rx="0.8" ry="1.3" fill="#161616"/>
<ellipse cx="647.7" cy="230.3" rx="0.8" ry="1" fill="#161616"/>
<ellipse cx="650.3" cy="233.2" rx="0.8" ry="1.1" fill="#161616"/>
<ellipse cx="644.7" cy="234.2" rx="1" ry="1.2" fill="#161616"/>
<ellipse cx="646.4" cy="236.8" rx="1.1" ry="1.2" fill="#161616"/>
<ellipse cx="648.5" cy="237.4" rx="0.9" ry="1.4" fill="#161616"/>
<ellipse cx="651.1" cy="240.1" rx="1" ry="1.2" fill="#161616"/>
<ellipse cx="644.9" cy="239.5" rx="0.8" ry="1.1" fill="#161616"/>
<ellipse cx="647.4" cy="242.4" rx="0.9" ry="1.3" fill="#161616"/>
<ellipse cx="649.5" cy="244.7" rx="1" ry="1.4" fill="#161616"/>
<ellipse cx="651.9" cy="247.5" rx="0.9" ry="1.5" fill="#161616"/>
<ellipse cx="645.7" cy="245.3" rx="1.1" ry="1.1" fill="#161616"/>
<ellipse cx="648.1" cy="248" rx="0.8" ry="1.3" fill="#161616"/>
<ellipse cx="650.2" cy="250.5" rx="1" ry="1.3" fill="#161616"/>
<ellipse cx="652.3" cy="255.6" rx="1" ry="1.3" fill="#161616"/>
<ellipse cx="646.2" cy="250.2" rx="1" ry="1.5" fill="#161616"/>
<ellipse cx="648.5" cy="253.7" rx="0.8" ry="1.4" fill="#161616"/>
<ellipse cx="650.8" cy="257.9" rx="1" ry="1.2" fill="#161616"/>
<ellipse cx="652.7" cy="261.2" rx="0.8" ry="1.3" fill="#161616"/>
<ellipse cx="646.3" cy="254.1" rx="0.8" ry="1.4" fill="#161616"/>
<ellipse cx="648.4" cy="258" rx="0.9" ry="1.5" fill="#161616"/>
<ellipse cx="650.6" cy="262.1" rx="0.9" ry="1.5" fill="#161616"/>
<ellipse cx="652.8" cy="268" rx="0.8" ry="1.2" fill="#161616"/>
<ellipse cx="646.9" cy="259.3" rx="1.1" ry="1.1" fill="#161616"/>
<ellipse cx="648.5" cy="262.6" rx="0.8" ry="1.3" fill="#161616"/>
<ellipse cx="650.3" cy="267.5" rx="0.8" ry="1.2" fill="#161616"/>
<ellipse cx="652.3" cy="272.1" rx="1.1" ry="1.4" fill="#161616"/>
<ellipse cx="646.8" cy="263" rx="1" ry="1" fill="#161616"/>
<ellipse cx="648.6" cy="268" rx="1.1" ry="1.4" fill="#161616"/>
<ellipse cx="650.1" cy="271.5" rx="0.8" ry="1.3" fill="#161616"/>
<ellipse cx="651.6" cy="275.4" rx="0.8" ry="1.1" fill="#161616"/>
<ellipse cx="646.3" cy="265.3" rx="0.8" ry="1.1" fill="#161616"/>
<ellipse cx="648" cy="269.9" rx="0.8" ry="1.5" fill="#161616"/>
<ellipse cx="649.3" cy="274.8" rx="0.8" ry="1.2" fill="#161616"/>
<ellipse cx="650.8" cy="279.2" rx="1" ry="1.5" fill="#161616"/>
<ellipse cx="646.1" cy="268.3" rx="0.8" ry="1.1" fill="#161616"/>
<ellipse cx="647.4" cy="272.5" rx="1" ry="1.1" fill="#161616"/>
<ellipse cx="649.1" cy="277.8" rx="0.9" ry="1.1" fill="#161616"/>
<ellipse cx="649.7" cy="281.6" rx="0.9" ry="1.5" fill="#161616"/>
<ellipse cx="645.6" cy="270.4" rx="0.8" ry="1.2" fill="#161616"/>
<ellipse cx="646.9" cy="274.8" rx="0.9" ry="1.4" fill="#161616"/>
<ellipse cx="647.7" cy="278.7" rx="1" ry="1.5" fill="#161616"/>
<ellipse cx="648.6" cy="284.2" rx="1" ry="1.4" fill="#161616"/>
<ellipse cx="645" cy="270.9" rx="0.9" ry="1" fill="#161616"/>
<ellipse cx="645.9" cy="275" rx="0.8" ry="1.4" fill="#161616"/>
<ellipse cx="646.4" cy="279.7" rx="1.1" ry="1.5" fill="#161616"/>
<ellipse cx="647" cy="283.9" rx="0.8" ry="1.1" fill="#161616"/>
<ellipse cx="644.1" cy="270.7" rx="1" ry="1.5" fill="#161616"/>
<ellipse cx="644.6" cy="275.2" rx="1" ry="1.4" fill="#161616"/>
<ellipse cx="645.5" cy="279.7" rx="1.1" ry="1.4" fill="#161616"/>
<ellipse cx="645.5" cy="283.3" rx="0.8" ry="1.4" fill="#161616"/>
<ellipse cx="643.3" cy="270.9" rx="1.1" ry="1.2" fill="#161616"/>
<ellipse cx="643.7" cy="275" rx="1" ry="1.1" fill="#161616"/>
<ellipse cx="643.9" cy="277.9" rx="1.1" ry="1.4" fill="#161616"/>
<ellipse cx="644.2" cy="282.5" rx="1.1" ry="1.4" fill="#161616"/>
<ellipse cx="642.2" cy="269.1" rx="0.8" ry="1" fill="#161616"/>
<ellipse cx="642.1" cy="272.4" rx="0.9" ry="1.5" fill="#161616"/>
<ellipse cx="642.3" cy="276.5" rx="1" ry="1.1" fill="#161616"/>
<ellipse cx="642.2" cy="279.1" rx="0.8" ry="1.3" fill="#161616"/>
<ellipse cx="641.1" cy="266.9" rx="0.8" ry="1.5" fill="#161616"/>
<ellipse cx="640.9" cy="270.1" rx="1" ry="1.5" fill="#161616"/>
<ellipse cx="640.7" cy="273.5" rx="0.9" ry="1.3" fill="#161616"/>
<ellipse cx="640.2" cy="275" rx="0.9" ry="1.1" fill="#161616"/>
<ellipse cx="640" cy="264.8" rx="0.8" ry="1.3" fill="#161616"/>
<ellipse cx="639.3" cy="266.4" rx="0.9" ry="1.3" fill="#161616"/>
<ellipse cx="638.9" cy="269.3" rx="0.8" ry="1.3" fill="#161616"/>
<ellipse cx="638.4" cy="271.3" rx="1" ry="1.3" fill="#161616"/>
<ellipse cx="638.5" cy="260.7" rx="1.1" ry="1.2" fill="#161616"/>
<ellipse cx="637.9" cy="262.4" rx="0.9" ry="1.4" fill="#161616"/>
<ellipse cx="637.2" cy="264.5" rx="0.9" ry="1.5" fill="#161616"/>
<ellipse cx="636.2" cy="265.9" rx="1.1" ry="1.1" fill="#161616"/>
<ellipse cx="637.2" cy="256.7" rx="1" ry="1.1" fill="#161616"/>
<ellipse cx="636.7" cy="258.4" rx="0.8" ry="1.1" fill="#161616"/>
<ellipse cx="635.7" cy="260" rx="1" ry="1.5" fill="#161616"/>
<ellipse cx="634.6" cy="260.8" rx="1" ry="1.1" fill="#161616"/>
<ellipse cx="635.8" cy="251.6" rx="0.8" ry="1.5" fill="#161616"/>
<ellipse cx="635.1" cy="252.9" rx="1.1" ry="1.5" fill="#161616"/>
<ellipse cx="634.1" cy="253.8" rx="0.9" ry="1.2" fill="#161616"/>
<ellipse cx="632.9" cy="254" rx="1" ry="1" fill="#161616"/>
<ellipse cx="634.8" cy="246.7" rx="0.8" ry="1.2" fill="#161616"/>
<ellipse cx="633.6" cy="246.8" rx="0.8" ry="1.5" fill="#161616"/>
<ellipse cx="632.1" cy="246.6" rx="0.8" ry="1.1" fill="#161616"/>
<ellipse cx="631.1" cy="247.7" rx="0.8" ry="1.1" fill="#161616"/>
<ellipse cx="633.6" cy="241.8" rx="1" ry="1.1" fill="#161616"/>
<ellipse cx="632.3" cy="241.9" rx="0.9" ry="1.4" fill="#161616"/>
<ellipse cx="631.2" cy="241" rx="1" ry="1.2" fill="#161616"/>
<ellipse cx="629.4" cy="240.3" rx="1" ry="1.4" fill="#161616"/>
<ellipse cx="632.6" cy="236.7" rx="0.8" ry="1.5" fill="#161616"/>
<ellipse cx="631.2" cy="234.9" rx="0.9" ry="1.5" fill="#161616"/>
<ellipse cx="629.8" cy="233.9" rx="0.9" ry="1.1" fill="#161616"/>
<ellipse cx="628.3" cy="232.6" rx="0.8" ry="1.1" fill="#161616"/>
<ellipse cx="631.7" cy="230.6" rx="1" ry="1.2" fill="#161616"/>
<ellipse cx="630.1" cy="228.6" rx="0.9" ry="1" fill="#161616"/>
<ellipse cx="628.7" cy="227.1" rx="1" ry="1.3" fill="#161616"/>
<ellipse cx="626.9" cy="224.9" rx="1.1" ry="1.1" fill="#161616"/>
<ellipse cx="630.6" cy="224" rx="0.9" ry="1.5" fill="#161616"/>
<ellipse cx="629.1" cy="222.5" rx="1" ry="1.5" fill="#161616"/>
<ellipse cx="627.4" cy="219.9" rx="1" ry="1.3" fill="#161616"/>
<ellipse cx="625.9" cy="217" rx="0.8" ry="1.1" fill="#161616"/>
<ellipse cx="629.9" cy="219.6" rx="0.8" ry="1.1" fill="#161616"/>
<ellipse cx="628.2" cy="216.7" rx="1.1" ry="1.4" fill="#161616"/>
<ellipse cx="626.9" cy="213.5" rx="0.9" ry="1.3" fill="#161616"/>
<ellipse cx="625.2" cy="210.2" rx="0.8" ry="1.5" fill="#161616"/>
<ellipse cx="629.2" cy="212.7" rx="0.8" ry="1.5" fill="#161616"/>
<ellipse cx="627.8" cy="210.6" rx="0.8" ry="1.2" fill="#161616"/>
<ellipse cx="626.1" cy="206.6" rx="0.8" ry="1.3" fill="#161616"/>
<ellipse cx="624.8" cy="203.8" rx="0.8" ry="1.2" fill="#161616"/>
<ellipse cx="629.1" cy="209.4" rx="0.9" ry="1.1" fill="#161616"/>
<ellipse cx="627.3" cy="204.4" rx="1" ry="1.4" fill="#161616"/>
<ellipse cx="625.6" cy="199.8" rx="0.9" ry="1.2" fill="#161616"/>
<ellipse cx="624.5" cy="195.6" rx="1" ry="1.4" fill="#161616"/>
<ellipse cx="628.4" cy="204" rx="1.1" ry="1.3" fill="#161616"/>
<ellipse cx="626.9" cy="198.8" rx="0.8" ry="1.3" fill="#161616"/>
<ellipse cx="625.6" cy="194.7" rx="1" ry="1.5" fill="#161616"/>
<ellipse cx="624.3" cy="189.9" rx="1" ry="1.4" fill="#161616"/>
<ellipse cx="628.5" cy="200.2" rx="0.8" ry="1.2" fill="#161616"/>
<ellipse cx="626.9" cy="195" rx="0.9" ry="1.3" fill="#161616"/>
<ellipse cx="625.8" cy="189.8" rx="0.9" ry="1" fill="#161616"/>
<ellipse cx="624.6" cy="184.6" rx="0.9" ry="1.3" fill="#161616"/>
<ellipse cx="628.5" cy="196" rx="1" ry="1.1" fill="#161616"/>
<ellipse cx="627.3" cy="191.7" rx="1" ry="1.1" fill="#161616"/>
<ellipse cx="626.1" cy="185.2" rx="0.9" ry="1.2" fill="#161616"/>
<ellipse cx="625.2" cy="180.9" rx="1" ry="1.3" fill="#161616"/>
<ellipse cx="628.7" cy="193" rx="0.8" ry="1.1" fill="#161616"/>
<ellipse cx="627.7" cy="187.7" rx="0.9" ry="1" fill="#161616"/>
<ellipse cx="626.8" cy="183.5" rx="1" ry="1.4" fill="#161616"/>
<ellipse cx="626.2" cy="177.8" rx="0.9" ry="1.3" fill="#161616"/>
<ellipse cx="629" cy="190.7" rx="1.1" ry="1.1" fill="#161616"/>
<ellipse cx="628.2" cy="184.3" rx="0.8" ry="1.3" fill="#161616"/>
<ellipse cx="627.5" cy="179.4" rx="0.9" ry="1.1" fill="#161616"/>
<ellipse cx="626.9" cy="174.8" rx="0.8" ry="1.3" fill="#161616"/>
<ellipse cx="629.4" cy="188.6" rx="1.1" ry="1.1" fill="#161616"/>
<ellipse cx="629" cy="183.5" rx="1.1" ry="1.4" fill="#161616"/>
<ellipse cx="628.4" cy="178.2" rx="0.9" ry="1" fill="#161616"/>
<ellipse cx="628.1" cy="174" rx="0.9" ry="1.2" fill="#161616"/>
<ellipse cx="630.1" cy="187.9" rx="0.9" ry="1.5" fill="#161616"/>
<ellipse cx="629.7" cy="182.5" rx="1" ry="1.1" fill="#161616"/>
<ellipse cx="629.9" cy="177.8" rx="1.1" ry="1.2" fill="#161616"/>
<ellipse cx="629.7" cy="173.6" rx="1.1" ry="1.3" fill="#161616"/>
<ellipse cx="630.9" cy="187.5" rx="0.8" ry="1" fill="#161616"/>
<ellipse cx="630.8" cy="182.3" rx="0.8" ry="1.5" fill="#161616"/>
<ellipse cx="631" cy="178.7" rx="0.9" ry="1.1" fill="#161616"/>
<ellipse cx="631.2" cy="173.4" rx="1.1" ry="1.4" fill="#161616"/>
<ellipse cx="631.9" cy="187.5" rx="1.1" ry="1.3" fill="#161616"/>
<ellipse cx="632.2" cy="184.6" rx="1" ry="1.2" fill="#161616"/>
<ellipse cx="632.6" cy="179.6" rx="0.9" ry="1" fill="#161616"/>
<ellipse cx="633.3" cy="176.5" rx="0.9" ry="1.2" fill="#161616"/>
<ellipse cx="632.9" cy="189" rx="1.1" ry="1.1" fill="#161616"/>
<ellipse cx="633.5" cy="186" rx="0.9" ry="1.2" fill="#161616"/>
<ellipse cx="633.9" cy="182.1" rx="0.8" ry="1.5" fill="#161616"/>
<ellipse cx="634.8" cy="178.7" rx="1.1" ry="1.5" fill="#161616"/>
<ellipse cx="634" cy="192.1" rx="0.8" ry="1" fill="#161616"/>
<ellipse cx="634.7" cy="188.6" rx="0.8" ry="1.1" fill="#161616"/>
<ellipse cx="635.8" cy="184.5" rx="1" ry="1.2" fill="#161616"/>
<ellipse cx="636.7" cy="181.8" rx="0.9" ry="1.2" fill="#161616"/>
<ellipse cx="635" cy="194.3" rx="1.1" ry="1.1" fill="#161616"/>
<ellipse cx="636.3" cy="191.4" rx="1.1" ry="1.1" fill="#161616"/>
<ellipse cx="637.2" cy="188.8" rx="0.9" ry="1.2" fill="#161616"/>
<ellipse cx="639.1" cy="186.6" rx="1.1" ry="1" fill="#161616"/>
<ellipse cx="636.4" cy="197.2" rx="1.1" ry="1.3" fill="#161616"/>
<ellipse cx="637.6" cy="196.2" rx="0.9" ry="1.5" fill="#161616"/>
<ellipse cx="639.4" cy="193.6" rx="1.1" ry="1.1" fill="#161616"/>
<ellipse cx="640.3" cy="191.3" rx="0.9" ry="1.4" fill="#161616"/>
<ellipse cx="638" cy="202.4" rx="1" ry="1.4" fill="#161616"/>
<ellipse cx="639.2" cy="200.1" rx="0.8" ry="1.4" fill="#161616"/>
<ellipse cx="640.8" cy="197.9" rx="1" ry="1.2" fill="#161616"/>
<ellipse cx="642.2" cy="197" rx="1" ry="1.4" fill="#161616"/>
<ellipse cx="638.7" cy="206.5" rx="0.9" ry="1.3" fill="#161616"/>
<ellipse cx="640.5" cy="205.5" rx="1" ry="1" fill="#161616"/>
<ellipse cx="642.3" cy="204.2" rx="1.1" ry="1.4" fill="#161616"/>
<ellipse cx="644.5" cy="204.8" rx="0.8" ry="1.1" fill="#161616"/>
<ellipse cx="640.5" cy="212.3" rx="0.9" ry="1" fill="#161616"/>
<ellipse cx="642.1" cy="211" rx="0.9" ry="1.1" fill="#161616"/>
<ellipse cx="644.3" cy="211" rx="0.8" ry="1" fill="#161616"/>
<ellipse cx="645.9" cy="210.7" rx="1" ry="1.1" fill="#161616"/>
<ellipse cx="641.6" cy="217.4" rx="0.9" ry="1.1" fill="#161616"/>
<ellipse cx="643.4" cy="218" rx="1" ry="1.1" fill="#161616"/>
<ellipse cx="645.4" cy="216.8" rx="0.9" ry="1.5" fill="#161616"/>
<ellipse cx="647.4" cy="218.4" rx="0.8" ry="1.2" fill="#161616"/>
<ellipse cx="642.8" cy="222.7" rx="0.8" ry="1.2" fill="#161616"/>
<ellipse cx="644.7" cy="222.6" rx="0.8" ry="1" fill="#161616"/>
<ellipse cx="646.5" cy="223.5" rx="1.1" ry="1.5" fill="#161616"/>
<ellipse cx="649.3" cy="226.3" rx="1.1" ry="1.2" fill="#161616"/>
<path d="M665.4 193.5 L666.2 187.8 L668.8 187.4 L670.2 193" fill="#777" stroke="#2a2a2a" stroke-width="1.3" />
<path d="M674 255 L675.6 260.8 L678 260.4 L677.8 254.6" fill="#777" stroke="#2a2a2a" stroke-width="1.3" />
<path d="M676.8 220.5 L679 222.5 L679 227.5 L677.4 229" fill="#777" stroke="#2a2a2a" stroke-width="1.2" />
<path d="M677.9 223 L678.2 225 L678.5 227.1 L678.7 229.1 L679 231.1 L679.1 233 L679.3 234.9 L679.4 236.8 L679.5 238.7 L679.5 240.5 L679.5 242.2 L679.4 243.8 L679.3 245.4 L679.2 246.9 L679 248.3 L678.8 249.6 L678.6 250.8 L678.3 251.9 L678 252.9 L677.7 253.8 L677.3 254.6 L676.9 255.2 L676.4 255.7 L676 256.1 L675.5 256.4 L675 256.6 L674.4 256.6 L673.9 256.5 L673.3 256.2 L672.8 255.9 L672.2 255.4 L671.6 254.8 L670.9 254.1 L670.3 253.2 L669.7 252.3 L669.1 251.2 L668.5 250.1 L667.9 248.8 L667.2 247.4 L666.6 246 L666.1 244.4 L665.5 242.8 L664.9 241.1 L664.4 239.3 L663.9 237.5 L663.4 235.7 L662.9 233.7 L662.5 231.8 L662.1 229.8 L661.7 227.8 L661.3 225.8 L661 223.8 L660.7 221.7 L660.5 219.7 L660.2 217.7 L660.1 215.8 L659.9 213.9 L659.8 212 L659.7 210.1 L659.7 208.3 L659.7 206.6 L659.8 205 L659.9 203.4 L660 201.9 L660.2 200.5 L660.4 199.2 L660.6 198 L660.9 196.9 L661.2 195.9 L661.5 195 L661.9 194.2 L662.3 193.6 L662.8 193.1 L663.2 192.7 L663.7 192.4 L664.2 192.2 L664.8 192.2 L665.3 192.3 L665.9 192.6 L666.4 192.9 L667 193.4 L667.6 194 L668.3 194.7 L668.9 195.6 L669.5 196.5 L670.1 197.6 L670.7 198.7 L671.3 200 L672 201.4 L672.6 202.8 L673.1 204.4 L673.7 206 L674.3 207.7 L674.8 209.5 L675.3 211.3 L675.8 213.1 L676.3 215.1 L676.7 217 L677.1 219 L677.5 221 L677.9 223Z M674.4 223 L674.2 221.6 L673.9 220.1 L673.6 218.7 L673.3 217.3 L673 215.9 L672.7 214.5 L672.3 213.2 L672 211.9 L671.6 210.7 L671.3 209.5 L670.9 208.4 L670.5 207.3 L670.2 206.3 L669.8 205.4 L669.4 204.5 L669 203.7 L668.7 203 L668.3 202.4 L667.9 201.9 L667.6 201.4 L667.3 201.1 L666.9 200.8 L666.6 200.6 L666.3 200.5 L666 200.5 L665.7 200.6 L665.5 200.8 L665.2 201.1 L665 201.4 L664.8 201.9 L664.6 202.4 L664.4 203.1 L664.3 203.8 L664.2 204.6 L664.1 205.4 L664 206.3 L664 207.4 L663.9 208.4 L663.9 209.5 L663.9 210.7 L664 212 L664 213.3 L664.1 214.6 L664.2 215.9 L664.4 217.3 L664.5 218.7 L664.7 220.2 L664.9 221.6 L665.1 223.1 L665.4 224.6 L665.6 226 L665.9 227.5 L666.2 228.9 L666.5 230.3 L666.8 231.7 L667.1 233.1 L667.5 234.4 L667.8 235.7 L668.2 236.9 L668.5 238.1 L668.9 239.2 L669.3 240.3 L669.6 241.3 L670 242.2 L670.4 243.1 L670.8 243.9 L671.1 244.6 L671.5 245.2 L671.9 245.7 L672.2 246.2 L672.5 246.5 L672.9 246.8 L673.2 247 L673.5 247.1 L673.8 247.1 L674.1 247 L674.3 246.8 L674.6 246.5 L674.8 246.2 L675 245.7 L675.2 245.2 L675.4 244.5 L675.5 243.8 L675.6 243 L675.7 242.2 L675.8 241.3 L675.8 240.2 L675.9 239.2 L675.9 238.1 L675.9 236.9 L675.8 235.6 L675.8 234.3 L675.7 233 L675.6 231.7 L675.4 230.3 L675.3 228.9 L675.1 227.4 L674.9 226 L674.7 224.5 L674.4 223Z" fill="#777" stroke="#222" stroke-width="1.3" fill-rule="evenodd"/>
<path d="M676.1 223 L676.3 224.5 L676.6 225.9 L676.8 227.4 L676.9 228.8 L677.1 230.2 L677.2 231.6 L677.3 233 L677.4 234.4 L677.5 235.7 L677.6 237 L677.6 238.2 L677.6 239.5 L677.6 240.6 L677.6 241.8 L677.5 242.9 L677.4 243.9 L677.3 244.9 L677.2 245.8 L677.1 246.7 L676.9 247.5 L676.7 248.2 L676.5 248.9 L676.3 249.5 L676.1 250 L675.8 250.5 L675.6 250.9 L675.3 251.2 L675 251.5 L674.7 251.6 L674.3 251.7 L674 251.7 L673.6 251.7 L673.3 251.5 L672.9 251.3 L672.5 251.1 L672.1 250.7 L671.7 250.3 L671.3 249.8 L670.9 249.2 L670.5 248.6 L670.1 247.8 L669.7 247.1 L669.3 246.2 L668.8 245.3 L668.4 244.4 L668 243.4 L667.6 242.3 L667.2 241.2 L666.8 240 L666.5 238.8 L666.1 237.6 L665.7 236.3 L665.4 235 L665 233.7 L664.7 232.3 L664.4 230.9 L664.1 229.5 L663.8 228.1 L663.5 226.6 L663.3 225.2 L663.1 223.7 L662.8 222.3 L662.6 220.8 L662.5 219.4 L662.3 218 L662.2 216.6 L662.1 215.2 L662 213.8 L661.9 212.5 L661.8 211.2 L661.8 210 L661.8 208.7 L661.8 207.6 L661.8 206.4 L661.9 205.3 L662 204.3 L662.1 203.3 L662.2 202.4 L662.3 201.5 L662.5 200.7 L662.7 200 L662.9 199.3 L663.1 198.7 L663.3 198.2 L663.6 197.7 L663.8 197.3 L664.1 197 L664.4 196.7 L664.7 196.6 L665.1 196.5 L665.4 196.5 L665.8 196.5 L666.1 196.7 L666.5 196.9 L666.9 197.1 L667.3 197.5 L667.7 197.9 L668.1 198.4 L668.5 199 L668.9 199.6 L669.3 200.4 L669.7 201.1 L670.1 202 L670.6 202.9 L671 203.8 L671.4 204.8 L671.8 205.9 L672.2 207 L672.6 208.2 L672.9 209.4 L673.3 210.6 L673.7 211.9 L674 213.2 L674.4 214.5 L674.7 215.9 L675 217.3 L675.3 218.7 L675.6 220.1 L675.9 221.6 L676.1 223Z" fill="none" stroke="#222" stroke-width="1.6" stroke-dasharray="1.4 1.0" stroke-linecap="butt"/>
<ellipse cx="0" cy="0" rx="0.6" ry="0.9" transform="translate(667.6 189.8) rotate(0)" fill="#fff" stroke="#fff" stroke-width="0.6" />
<ellipse cx="0" cy="0" rx="0.6" ry="0.9" transform="translate(676.7 258.4) rotate(0)" fill="#fff" stroke="#fff" stroke-width="0.6" />
<path d="M686.6 214.5 L692.2 213.7 L692.5 213.7 L692.8 213.8 L693.1 213.9 L693.4 214.2 L693.7 214.5 L694 214.8 L694.3 215.3 L694.5 215.8 L694.8 216.4 L695 217 L695.3 217.7 L695.5 218.4 L695.7 219.1 L695.8 219.8 L696 220.6 L696.1 221.4 L696.2 222.1 L696.2 222.9 L696.2 223.6 L696.2 224.3 L696.2 225 L696.1 225.6 L696 226.2 L695.8 226.7 L695.7 227.1 L695.5 227.5 L695.3 227.8 L695.1 228.1 L694.8 228.2 L694.6 228.3 L689 229.1" fill="#fff" stroke="#333" stroke-width="0.9" />
<ellipse cx="0" cy="0" rx="2.6" ry="7.4" transform="translate(687.8 221.8) rotate(-9)" fill="#fff" stroke="#333" stroke-width="0.9" />
<ellipse cx="0" cy="0" rx="2.6" ry="7.4" transform="translate(687.8 221.8) rotate(-9)" fill="#fff" stroke="#333" stroke-width="1.3" />
<ellipse cx="0" cy="0" rx="1.5" ry="5.6" transform="translate(688 221.8) rotate(-9)" fill="none" stroke="#585858" stroke-width="0.7" />
<path d="M695.4 186.3 L704.2 185.5 L704.2 189.5 L695.7 190.3" fill="#fff" stroke="#333" stroke-width="0.9" />
<ellipse cx="0" cy="0" rx="0.9" ry="2" transform="translate(695.4 188.3) rotate(-6)" fill="#fff" stroke="#333" stroke-width="1.0" />
<line x1="697.4" y1="186.1" x2="697.6" y2="190.1" stroke="#333" stroke-width="0.6"/>
<path d="M704.2 185.5 L707 183.2 L708.6 183.2 L708.6 191.1 L707 191.2 L704.2 189.5Z" fill="#fff" stroke="#333" stroke-width="0.9" />
<ellipse cx="0" cy="0" rx="1.4" ry="4.1" transform="translate(708.1 187.2) rotate(-6)" fill="#fff" stroke="#333" stroke-width="1.0" />
<line x1="707" y1="183.2" x2="707.2" y2="191.2" stroke="#333" stroke-width="0.6"/>
<path d="M690.4 196.8 L699.2 196 L699.2 200 L690.7 200.8" fill="#fff" stroke="#333" stroke-width="0.9" />
<ellipse cx="0" cy="0" rx="0.9" ry="2" transform="translate(690.4 198.8) rotate(-6)" fill="#fff" stroke="#333" stroke-width="1.0" />
<line x1="692.4" y1="196.6" x2="692.6" y2="200.6" stroke="#333" stroke-width="0.6"/>
<path d="M699.2 196 L702 193.7 L703.6 193.7 L703.6 201.6 L702 201.7 L699.2 200Z" fill="#fff" stroke="#333" stroke-width="0.9" />
<ellipse cx="0" cy="0" rx="1.4" ry="4.1" transform="translate(703.1 197.7) rotate(-6)" fill="#fff" stroke="#333" stroke-width="1.0" />
<line x1="702" y1="193.7" x2="702.2" y2="201.7" stroke="#333" stroke-width="0.6"/>
<path d="M704.6 218.2 L713.4 217.4 L713.4 221.4 L704.9 222.2" fill="#fff" stroke="#333" stroke-width="0.9" />
<ellipse cx="0" cy="0" rx="0.9" ry="2" transform="translate(704.6 220.2) rotate(-6)" fill="#fff" stroke="#333" stroke-width="1.0" />
<line x1="706.6" y1="218" x2="706.8" y2="222" stroke="#333" stroke-width="0.6"/>
<path d="M713.4 217.4 L716.2 215.1 L717.8 215.1 L717.8 223 L716.2 223.1 L713.4 221.4Z" fill="#fff" stroke="#333" stroke-width="0.9" />
<ellipse cx="0" cy="0" rx="1.4" ry="4.1" transform="translate(717.3 219.1) rotate(-6)" fill="#fff" stroke="#333" stroke-width="1.0" />
<line x1="716.2" y1="215.1" x2="716.4" y2="223.1" stroke="#333" stroke-width="0.6"/>
<path d="M695.6 235.8 L704.4 235 L704.4 239 L695.9 239.8" fill="#fff" stroke="#333" stroke-width="0.9" />
<ellipse cx="0" cy="0" rx="0.9" ry="2" transform="translate(695.6 237.8) rotate(-6)" fill="#fff" stroke="#333" stroke-width="1.0" />
<line x1="697.6" y1="235.6" x2="697.8" y2="239.6" stroke="#333" stroke-width="0.6"/>
<path d="M704.4 235 L707.2 232.7 L708.8 232.7 L708.8 240.6 L707.2 240.7 L704.4 239Z" fill="#fff" stroke="#333" stroke-width="0.9" />
<ellipse cx="0" cy="0" rx="1.4" ry="4.1" transform="translate(708.3 236.7) rotate(-6)" fill="#fff" stroke="#333" stroke-width="1.0" />
<line x1="707.2" y1="232.7" x2="707.4" y2="240.7" stroke="#333" stroke-width="0.6"/>
<path d="M704.4 248.6 L713.2 247.8 L713.2 251.8 L704.7 252.6" fill="#fff" stroke="#333" stroke-width="0.9" />
<ellipse cx="0" cy="0" rx="0.9" ry="2" transform="translate(704.4 250.6) rotate(-6)" fill="#fff" stroke="#333" stroke-width="1.0" />
<line x1="706.4" y1="248.4" x2="706.6" y2="252.4" stroke="#333" stroke-width="0.6"/>
<path d="M713.2 247.8 L716 245.5 L717.6 245.5 L717.6 253.4 L716 253.5 L713.2 251.8Z" fill="#fff" stroke="#333" stroke-width="0.9" />
<ellipse cx="0" cy="0" rx="1.4" ry="4.1" transform="translate(717.1 249.5) rotate(-6)" fill="#fff" stroke="#333" stroke-width="1.0" />
<line x1="716" y1="245.5" x2="716.2" y2="253.5" stroke="#333" stroke-width="0.6"/>
<line x1="118.8" y1="171.5" x2="119.4" y2="198" stroke="#a4a4a4" stroke-width="1.15"/>
<line x1="376" y1="96.5" x2="376" y2="137" stroke="#a4a4a4" stroke-width="1.15"/>
<line x1="542.4" y1="112.8" x2="622.3" y2="112.8" stroke="#a4a4a4" stroke-width="1.15"/>
<line x1="634" y1="141" x2="634" y2="168" stroke="#a4a4a4" stroke-width="1.15"/>
<line x1="402.3" y1="167" x2="439.8" y2="167" stroke="#a4a4a4" stroke-width="1.15"/>
<line x1="195.2" y1="208" x2="195.2" y2="224.3" stroke="#a4a4a4" stroke-width="1.15"/>
<line x1="216.5" y1="213" x2="216.5" y2="244.7" stroke="#a4a4a4" stroke-width="1.15"/>
<line x1="236.9" y1="206" x2="236.9" y2="229.5" stroke="#a4a4a4" stroke-width="1.15"/>
<line x1="249.7" y1="206" x2="249.7" y2="229.5" stroke="#a4a4a4" stroke-width="1.15"/>
<line x1="270.5" y1="212.6" x2="270.5" y2="243" stroke="#a4a4a4" stroke-width="1.15"/>
<line x1="140.1" y1="230.5" x2="140.1" y2="253.5" stroke="#a4a4a4" stroke-width="1.15"/>
<line x1="167" y1="226.5" x2="167" y2="237.4" stroke="#a4a4a4" stroke-width="1.15"/>
<line x1="309.6" y1="227" x2="309.6" y2="265" stroke="#a4a4a4" stroke-width="1.15"/>
<line x1="438.5" y1="226" x2="438.5" y2="245" stroke="#a4a4a4" stroke-width="1.15"/>
<line x1="459.7" y1="203.5" x2="459.7" y2="242" stroke="#a4a4a4" stroke-width="1.15"/>
<line x1="477" y1="227" x2="477" y2="243" stroke="#a4a4a4" stroke-width="1.15"/>
<line x1="39.5" y1="284.5" x2="38.5" y2="303.5" stroke="#a4a4a4" stroke-width="1.15"/>
<line x1="69.5" y1="284" x2="69.8" y2="302.5" stroke="#a4a4a4" stroke-width="1.15"/>
<line x1="317.6" y1="286.5" x2="319.6" y2="301.6" stroke="#a4a4a4" stroke-width="1.15"/>
<line x1="469.5" y1="293" x2="469.5" y2="332" stroke="#a4a4a4" stroke-width="1.15"/>
<line x1="111" y1="320" x2="111.3" y2="361.3" stroke="#a4a4a4" stroke-width="1.15"/>
<line x1="98.7" y1="320" x2="99.3" y2="383" stroke="#a4a4a4" stroke-width="1.15"/>
<line x1="120" y1="318.7" x2="120.6" y2="382" stroke="#a4a4a4" stroke-width="1.15"/>
<line x1="134" y1="316" x2="135" y2="379.5" stroke="#a4a4a4" stroke-width="1.15"/>
<line x1="668.5" y1="142" x2="668.5" y2="188" stroke="#aaa" stroke-width="0.9" stroke-dasharray="1.2 1"/>
<line x1="687.9" y1="142" x2="687.9" y2="213" stroke="#aaa" stroke-width="0.9" stroke-dasharray="1.2 1"/>
<line x1="708" y1="143" x2="708" y2="183" stroke="#aaa" stroke-width="0.9" stroke-dasharray="1.2 1"/>
<line x1="257.6" y1="314" x2="257.2" y2="359.5" stroke="#aaa" stroke-width="0.9" stroke-dasharray="1.2 1"/>
<text transform="translate(118.7 170) scale(0.955 1.0)" x="0" y="0" text-anchor="middle" font-size="14.6" fill="#2a2a2a" letter-spacing="0.5">2</text>
<text transform="translate(375 96.3) scale(0.955 1.0)" x="0" y="0" text-anchor="middle" font-size="14.6" fill="#2a2a2a" letter-spacing="0.5">14</text>
<text transform="translate(634.8 117.2) scale(0.955 1.0)" x="0" y="0" text-anchor="middle" font-size="14.6" fill="#2a2a2a" letter-spacing="0.5">20</text>
<text transform="translate(634 138.4) scale(0.955 1.0)" x="0" y="0" text-anchor="middle" font-size="14.6" fill="#2a2a2a" letter-spacing="0.5">21</text>
<text transform="translate(666.9 138.4) scale(0.955 1.0)" x="0" y="0" text-anchor="middle" font-size="14.6" fill="#2a2a2a" letter-spacing="0.5">22</text>
<text transform="translate(686.9 138.4) scale(0.955 1.0)" x="0" y="0" text-anchor="middle" font-size="14.6" fill="#2a2a2a" letter-spacing="0.5">23</text>
<text transform="translate(709.4 138.4) scale(0.955 1.0)" x="0" y="0" text-anchor="middle" font-size="14.6" fill="#2a2a2a" letter-spacing="0.5">24</text>
<text transform="translate(447.3 171) scale(0.955 1.0)" x="0" y="0" text-anchor="middle" font-size="14.6" fill="#2a2a2a" letter-spacing="0.5">17</text>
<text transform="translate(193.6 207) scale(0.955 1.0)" x="0" y="0" text-anchor="middle" font-size="14.6" fill="#2a2a2a" letter-spacing="0.5">3</text>
<text transform="translate(216 212) scale(0.955 1.0)" x="0" y="0" text-anchor="middle" font-size="14.6" fill="#2a2a2a" letter-spacing="0.5">7</text>
<text transform="translate(236.4 205.4) scale(0.955 1.0)" x="0" y="0" text-anchor="middle" font-size="14.6" fill="#2a2a2a" letter-spacing="0.5">5</text>
<text transform="translate(249.2 205.4) scale(0.955 1.0)" x="0" y="0" text-anchor="middle" font-size="14.6" fill="#2a2a2a" letter-spacing="0.5">4</text>
<text transform="translate(270.5 211) scale(0.955 1.0)" x="0" y="0" text-anchor="middle" font-size="14.6" fill="#2a2a2a" letter-spacing="0.5">13</text>
<text transform="translate(142.5 229.8) scale(0.955 1.0)" x="0" y="0" text-anchor="middle" font-size="14.6" fill="#2a2a2a" letter-spacing="0.5">12</text>
<text transform="translate(166.6 226) scale(0.955 1.0)" x="0" y="0" text-anchor="middle" font-size="14.6" fill="#2a2a2a" letter-spacing="0.5">6</text>
<text transform="translate(308 224.7) scale(0.955 1.0)" x="0" y="0" text-anchor="middle" font-size="14.6" fill="#2a2a2a" letter-spacing="0.5">15</text>
<text transform="translate(437.8 224.7) scale(0.955 1.0)" x="0" y="0" text-anchor="middle" font-size="14.6" fill="#2a2a2a" letter-spacing="0.5">15</text>
<text transform="translate(459.7 202.4) scale(0.955 1.0)" x="0" y="0" text-anchor="middle" font-size="14.6" fill="#2a2a2a" letter-spacing="0.5">10</text>
<text transform="translate(476.7 225.5) scale(0.955 1.0)" x="0" y="0" text-anchor="middle" font-size="14.6" fill="#2a2a2a" letter-spacing="0.5">18</text>
<text transform="translate(41 282.8) scale(0.955 1.0)" x="0" y="0" text-anchor="middle" font-size="14.6" fill="#2a2a2a" letter-spacing="0.5">26</text>
<text transform="translate(68.8 281.2) scale(0.955 1.0)" x="0" y="0" text-anchor="middle" font-size="14.6" fill="#2a2a2a" letter-spacing="0.5">1</text>
<text transform="translate(319.4 312) scale(0.955 1.0)" x="0" y="0" text-anchor="middle" font-size="14.6" fill="#2a2a2a" letter-spacing="0.5">16</text>
<text transform="translate(470 343.8) scale(0.955 1.0)" x="0" y="0" text-anchor="middle" font-size="14.6" fill="#2a2a2a" letter-spacing="0.5">19</text>
<text transform="translate(256.5 372.1) scale(0.955 1.0)" x="0" y="0" text-anchor="middle" font-size="14.6" fill="#2a2a2a" letter-spacing="0.5">8</text>
<text transform="translate(111.3 372.8) scale(0.955 1.0)" x="0" y="0" text-anchor="middle" font-size="14.6" fill="#2a2a2a" letter-spacing="0.5">10</text>
<text transform="translate(98.5 394.9) scale(0.955 1.0)" x="0" y="0" text-anchor="middle" font-size="14.6" fill="#2a2a2a" letter-spacing="0.5">11</text>
<text transform="translate(116.4 393.3) scale(0.955 1.0)" x="0" y="0" text-anchor="middle" font-size="14.6" fill="#2a2a2a" letter-spacing="0.5">9</text>
<text transform="translate(135.6 391.7) scale(0.955 1.0)" x="0" y="0" text-anchor="middle" font-size="14.6" fill="#2a2a2a" letter-spacing="0.5">9</text>
<text transform="translate(446.8 410.9) scale(0.955 1.0)" x="0" y="0" text-anchor="middle" font-size="14.6" fill="#2a2a2a" letter-spacing="0.5">25</text>
</svg>
</body></html>
